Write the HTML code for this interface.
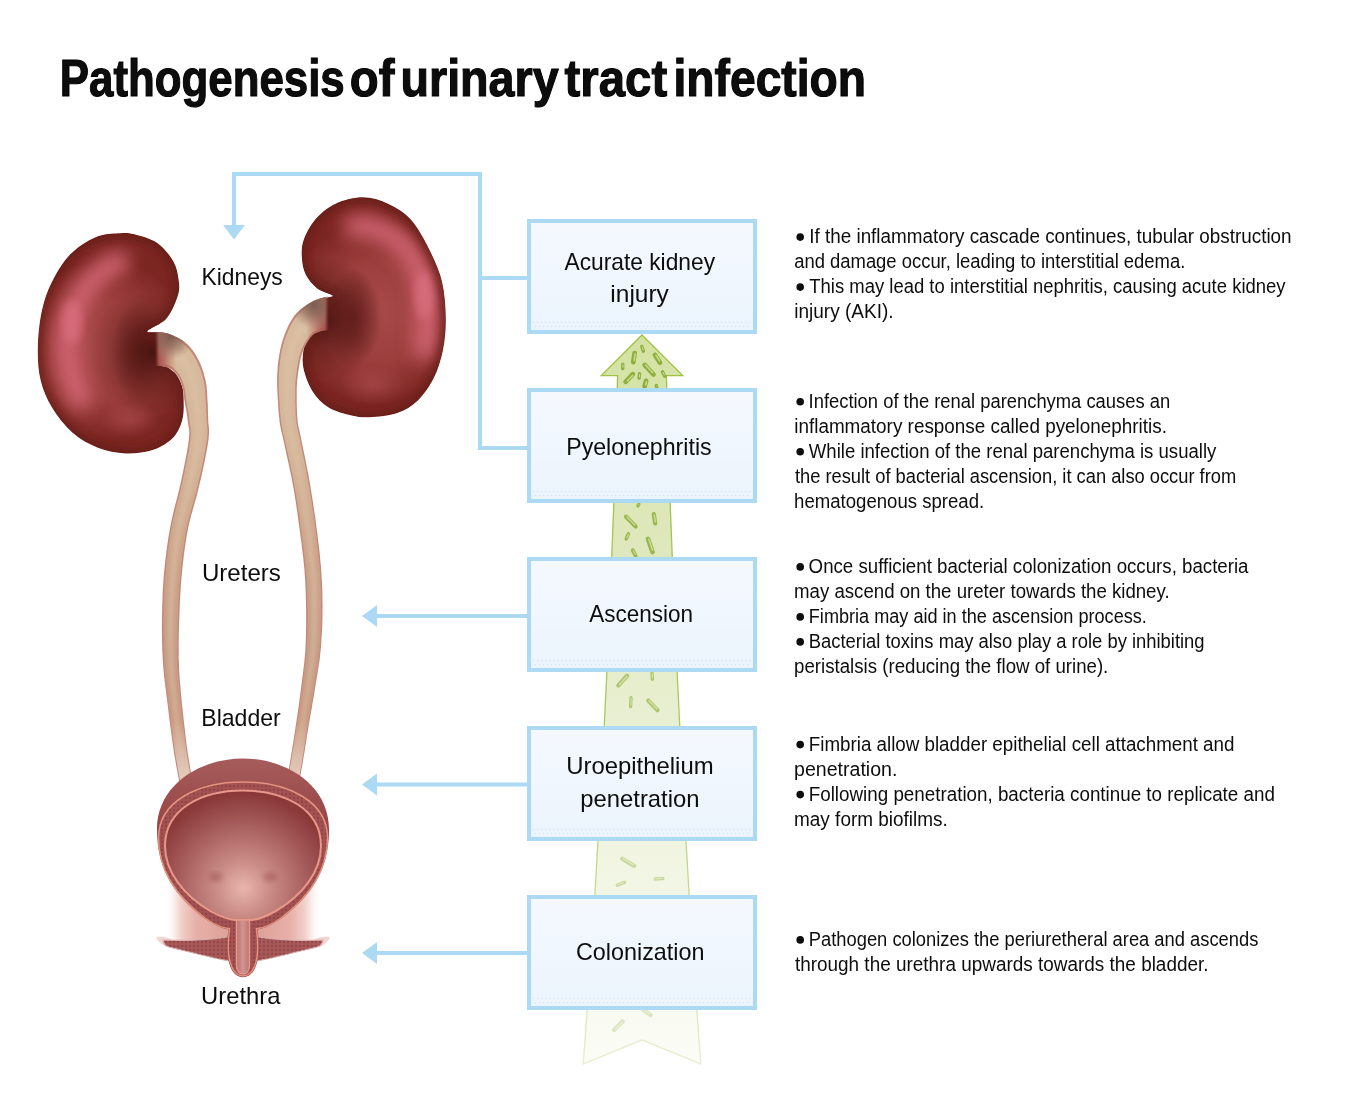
<!DOCTYPE html><html><head><meta charset="utf-8"><title>Pathogenesis of urinary tract infection</title><style>
html,body{margin:0;padding:0;background:#fff;overflow:hidden;}
svg{display:block;font-family:"Liberation Sans",sans-serif;}
</style></head><body>
<svg width="1364" height="1093" viewBox="0 0 1364 1093">
<defs>
<linearGradient id="arrowG" x1="0" y1="335" x2="0" y2="1064" gradientUnits="userSpaceOnUse">
 <stop offset="0" stop-color="#d3e2a2"/><stop offset="0.3" stop-color="#dfe8bd"/><stop offset="0.55" stop-color="#eaf0d4"/><stop offset="0.8" stop-color="#f4f7e8"/><stop offset="1" stop-color="#fbfcf6"/>
</linearGradient>
<linearGradient id="arrowS" x1="0" y1="335" x2="0" y2="1064" gradientUnits="userSpaceOnUse">
 <stop offset="0" stop-color="#9dc13f"/><stop offset="0.5" stop-color="#a9c85a"/><stop offset="0.75" stop-color="#c4d98f"/><stop offset="1" stop-color="#e6eecb"/>
</linearGradient>
<linearGradient id="boxG" x1="0" y1="0" x2="0" y2="1">
 <stop offset="0" stop-color="#f5f9fe"/><stop offset="1" stop-color="#ebf4fd"/>
</linearGradient>
<radialGradient id="lkG" cx="105" cy="350" r="90" gradientUnits="userSpaceOnUse">
 <stop offset="0" stop-color="#a84a4a"/><stop offset="0.55" stop-color="#9c3e3c"/><stop offset="1" stop-color="#7c2622"/>
</radialGradient>
<radialGradient id="rkG" cx="378" cy="312" r="92" gradientUnits="userSpaceOnUse">
 <stop offset="0" stop-color="#a84a4a"/><stop offset="0.55" stop-color="#9c3e3c"/><stop offset="1" stop-color="#7c2622"/>
</radialGradient>
<filter id="blur6" x="-50%" y="-50%" width="200%" height="200%"><feGaussianBlur stdDeviation="9"/></filter>
<radialGradient id="hilL" cx="152" cy="352" r="62" gradientUnits="userSpaceOnUse">
 <stop offset="0" stop-color="#4a1410" stop-opacity="1"/><stop offset="0.45" stop-color="#5a1a16" stop-opacity="0.6"/><stop offset="1" stop-color="#5a1a16" stop-opacity="0"/>
</radialGradient>
<radialGradient id="hilR" cx="322" cy="318" r="62" gradientUnits="userSpaceOnUse">
 <stop offset="0" stop-color="#4a1410" stop-opacity="1"/><stop offset="0.45" stop-color="#5a1a16" stop-opacity="0.6"/><stop offset="1" stop-color="#5a1a16" stop-opacity="0"/>
</radialGradient>
<radialGradient id="pelL" cx="170" cy="336" r="24" gradientUnits="userSpaceOnUse">
 <stop offset="0" stop-color="#7a5a50" stop-opacity="1"/><stop offset="0.5" stop-color="#8e6a5c" stop-opacity="0.7"/><stop offset="1" stop-color="#a07868" stop-opacity="0"/>
</radialGradient>
<radialGradient id="pelR" cx="314" cy="305" r="24" gradientUnits="userSpaceOnUse">
 <stop offset="0" stop-color="#7a5a50" stop-opacity="1"/><stop offset="0.5" stop-color="#8e6a5c" stop-opacity="0.7"/><stop offset="1" stop-color="#a07868" stop-opacity="0"/>
</radialGradient>
<linearGradient id="pel2L" x1="157" y1="0" x2="176" y2="0" gradientUnits="userSpaceOnUse">
 <stop offset="0" stop-color="#a04a48" stop-opacity="1"/><stop offset="0.4" stop-color="#b0605a" stop-opacity="0.8"/><stop offset="1" stop-color="#b87060" stop-opacity="0"/>
</linearGradient>
<linearGradient id="pel2R" x1="327" y1="0" x2="306" y2="0" gradientUnits="userSpaceOnUse">
 <stop offset="0" stop-color="#a04a48" stop-opacity="1"/><stop offset="0.4" stop-color="#b0605a" stop-opacity="0.8"/><stop offset="1" stop-color="#b87060" stop-opacity="0"/>
</linearGradient>
<linearGradient id="uBot" x1="0" y1="720" x2="0" y2="780" gradientUnits="userSpaceOnUse">
 <stop offset="0" stop-color="#fff" stop-opacity="0"/><stop offset="1" stop-color="#fff" stop-opacity="0.55"/>
</linearGradient>
<radialGradient id="cavG" cx="243" cy="888" r="95" gradientUnits="userSpaceOnUse">
 <stop offset="0" stop-color="#e8b6ac"/><stop offset="0.3" stop-color="#c98a84"/><stop offset="0.7" stop-color="#a45a5a"/><stop offset="1" stop-color="#8a3838"/>
</radialGradient>
<linearGradient id="domeG" x1="0" y1="758" x2="0" y2="840" gradientUnits="userSpaceOnUse">
 <stop offset="0" stop-color="#a65c5c"/><stop offset="1" stop-color="#94403f"/>
</linearGradient>
<radialGradient id="shG" cx="0.5" cy="0.5" r="0.5">
 <stop offset="0" stop-color="#eec2ba"/><stop offset="0.6" stop-color="#f6dcd6" stop-opacity="0.7"/><stop offset="1" stop-color="#fff" stop-opacity="0"/>
</radialGradient>
<linearGradient id="shoG" x1="165" y1="0" x2="321" y2="0" gradientUnits="userSpaceOnUse">
 <stop offset="0" stop-color="#fff" stop-opacity="0"/><stop offset="0.1" stop-color="#f2d0ca"/><stop offset="0.2" stop-color="#e6b0a8"/><stop offset="0.5" stop-color="#da9a92"/><stop offset="0.8" stop-color="#e6b0a8"/><stop offset="0.9" stop-color="#f2d0ca"/><stop offset="1" stop-color="#fff" stop-opacity="0"/>
</linearGradient>
<linearGradient id="lumG" x1="235" y1="0" x2="251" y2="0" gradientUnits="userSpaceOnUse">
 <stop offset="0" stop-color="#b66a68"/><stop offset="0.5" stop-color="#d19590"/><stop offset="1" stop-color="#b66a68"/>
</linearGradient>
<pattern id="cells" width="4" height="4" patternUnits="userSpaceOnUse"><circle cx="2" cy="2" r="1.2" fill="#7e3434" opacity="0.45"/></pattern>
<radialGradient id="shadE" cx="0.5" cy="0.5" r="0.5"><stop offset="0" stop-color="#5a1a16" stop-opacity="0.75"/><stop offset="1" stop-color="#5a1a16" stop-opacity="0"/></radialGradient>
<radialGradient id="hiE" cx="0.5" cy="0.5" r="0.5"><stop offset="0" stop-color="#d46a78" stop-opacity="1"/><stop offset="1" stop-color="#d46a78" stop-opacity="0"/></radialGradient>
<pattern id="dots" width="4" height="4" patternUnits="userSpaceOnUse" x="1" y="0"><rect x="0" y="0" width="1.2" height="4" fill="#d8e0ea"/></pattern>
<pattern id="dots2" width="4" height="4" patternUnits="userSpaceOnUse" x="3" y="0"><rect x="0" y="0" width="1.2" height="4" fill="#d8e0ea"/></pattern>
<filter id="blur4" x="-20%" y="-20%" width="140%" height="140%"><feGaussianBlur stdDeviation="4"/></filter>
<filter id="blur2" x="-20%" y="-20%" width="140%" height="140%"><feGaussianBlur stdDeviation="2"/></filter>
<linearGradient id="mLg" x1="155" y1="0" x2="159" y2="0" gradientUnits="userSpaceOnUse"><stop offset="0" stop-color="#fff" stop-opacity="0"/><stop offset="1" stop-color="#fff" stop-opacity="1"/></linearGradient>
<linearGradient id="mRg" x1="329" y1="0" x2="325" y2="0" gradientUnits="userSpaceOnUse"><stop offset="0" stop-color="#fff" stop-opacity="0"/><stop offset="1" stop-color="#fff" stop-opacity="1"/></linearGradient>
<mask id="mL" maskUnits="userSpaceOnUse" x="0" y="0" width="1364" height="1093"><rect x="0" y="0" width="1364" height="1093" fill="url(#mLg)"/></mask>
<mask id="mR" maskUnits="userSpaceOnUse" x="0" y="0" width="1364" height="1093"><rect x="0" y="0" width="1364" height="1093" fill="url(#mRg)"/></mask>
<clipPath id="pcL"><rect x="140" y="320" width="60" height="52"/></clipPath>
<clipPath id="pcR"><rect x="290" y="285" width="50" height="52"/></clipPath>
<linearGradient id="uBody" x1="0" y1="330" x2="0" y2="790" gradientUnits="userSpaceOnUse">
 <stop offset="0" stop-color="#d8bb9e"/><stop offset="0.26" stop-color="#d4b498"/><stop offset="0.5" stop-color="#cba288"/><stop offset="0.7" stop-color="#c69a84"/><stop offset="0.85" stop-color="#c9977f"/><stop offset="0.93" stop-color="#dbbcae"/><stop offset="1" stop-color="#ecd8d0"/>
</linearGradient>
<clipPath id="lkC"><path d="M 147.5 331.0 C 148.9 328.6 161.4 324.3 166.5 318.4 C 171.6 312.5 175.9 302.0 177.9 295.5 C 179.9 289.0 179.4 285.2 178.6 279.5 C 177.8 273.8 176.9 267.3 173.3 261.2 C 169.8 255.1 163.8 247.4 157.3 242.9 C 150.8 238.4 140.9 235.8 134.4 234.2 C 127.9 232.6 124.9 232.8 118.4 233.3 C 111.9 233.8 103.5 233.7 95.5 237.2 C 87.5 240.7 77.5 246.9 70.3 254.3 C 63.0 261.7 56.8 272.3 52.0 281.8 C 47.2 291.3 44.1 300.5 41.7 311.5 C 39.3 322.5 38.0 336.6 37.8 348.0 C 37.6 359.4 38.2 370.3 40.6 380.2 C 43.0 390.1 46.7 398.8 52.0 407.6 C 57.3 416.4 65.0 426.1 72.6 432.8 C 80.2 439.5 89.0 444.3 97.8 447.7 C 106.6 451.1 116.2 453.0 125.3 453.4 C 134.4 453.8 144.7 452.7 152.7 450.0 C 160.7 447.3 168.3 442.6 173.3 437.4 C 178.3 432.2 180.8 425.5 182.5 419.0 C 184.2 412.5 183.7 404.0 183.6 398.5 C 183.5 393.0 183.3 390.1 182.0 386.0 C 180.7 381.9 178.5 377.3 176.0 374.0 C 173.5 370.7 168.2 368.7 167.0 366.0 C 165.8 363.3 168.7 361.5 169.0 358.0 C 169.3 354.5 169.5 348.7 169.0 345.0 C 168.5 341.3 167.8 338.1 166.0 336.0 C 164.2 333.9 161.1 333.3 158.0 332.5 C 154.9 331.7 146.1 333.4 147.5 331.0 Z"/></clipPath>
<clipPath id="rkC"><path d="M 363.0 197.3 C 371.8 197.3 380.0 200.0 388.0 203.7 C 396.0 207.4 404.1 212.1 411.0 219.7 C 417.9 227.3 424.1 239.2 429.3 249.5 C 434.5 259.8 439.2 270.1 442.0 281.5 C 444.8 292.9 445.6 306.6 445.8 318.0 C 446.0 329.4 445.0 340.1 443.0 350.0 C 441.0 359.9 438.2 369.2 434.0 377.6 C 429.8 386.0 424.0 394.6 417.9 400.5 C 411.8 406.4 405.3 410.2 397.3 413.0 C 389.3 415.8 377.4 416.8 369.8 417.2 C 362.2 417.6 358.4 417.0 351.5 415.4 C 344.6 413.8 335.1 411.4 328.6 407.4 C 322.1 403.4 316.8 397.9 312.6 391.4 C 308.4 384.9 305.0 375.4 303.5 368.5 C 302.0 361.6 302.6 355.4 303.5 350.2 C 304.4 344.9 307.1 340.5 309.0 337.0 C 310.9 333.5 314.2 332.5 315.0 329.0 C 315.8 325.5 313.5 320.3 314.0 316.0 C 314.5 311.7 316.0 306.0 318.0 303.0 C 320.0 300.0 323.6 299.2 326.0 298.0 C 328.4 296.8 334.0 297.1 332.5 295.5 C 331.0 293.9 321.6 291.9 317.2 288.4 C 312.8 284.9 308.4 279.7 305.8 274.7 C 303.2 269.7 302.3 264.3 301.9 258.6 C 301.5 252.9 301.3 246.8 303.5 240.3 C 305.7 233.8 309.7 225.8 315.0 219.7 C 320.3 213.6 327.5 207.4 335.5 203.7 C 343.5 200.0 354.2 197.3 363.0 197.3 Z"/></clipPath>
</defs>
<rect width="1364" height="1093" fill="#fff"/>

<path d="M 642 335 L 682.7 375.6 L 666.4 375.6 Q 675.005 719.8 700.8 1064 L 642 1040 L 583.2 1064 Q 608.995 719.8 617.6 375.6 L 601.3 375.6 Z" fill="url(#arrowG)" stroke="url(#arrowS)" stroke-width="1.3"/>
<g transform="translate(642.6 348.8) rotate(71.6)" opacity="1.0"><rect x="-4.2" y="-1.7" width="8.4" height="3.4" rx="1.7" fill="#8fae3c"/><rect x="-2.5" y="-0.8" width="4.3" height="1.2" rx="0.6" fill="#c4da88"/></g>
<g transform="translate(634.0 357.6) rotate(98.4)" opacity="1.0"><rect x="-6.9" y="-2.3" width="13.8" height="4.7" rx="2.3" fill="#8fae3c"/><rect x="-4.6" y="-1.4" width="8.2" height="1.6" rx="0.8" fill="#c4da88"/></g>
<g transform="translate(657.5 358.8) rotate(56.9)" opacity="1.0"><rect x="-6.9" y="-2.3" width="13.9" height="4.7" rx="2.3" fill="#8fae3c"/><rect x="-4.6" y="-1.4" width="8.3" height="1.6" rx="0.8" fill="#c4da88"/></g>
<g transform="translate(622.7 366.3) rotate(90.0)" opacity="1.0"><rect x="-3.8" y="-1.7" width="7.7" height="3.4" rx="1.7" fill="#8fae3c"/><rect x="-2.1" y="-0.8" width="3.6" height="1.2" rx="0.6" fill="#c4da88"/></g>
<g transform="translate(649.1 369.7) rotate(47.2)" opacity="1.0"><rect x="-8.8" y="-2.3" width="17.6" height="4.7" rx="2.3" fill="#8fae3c"/><rect x="-6.5" y="-1.4" width="12.0" height="1.6" rx="0.8" fill="#c4da88"/></g>
<g transform="translate(629.3 378.0) rotate(133.7)" opacity="1.0"><rect x="-7.5" y="-2.3" width="15.1" height="4.7" rx="2.3" fill="#8fae3c"/><rect x="-5.2" y="-1.4" width="9.5" height="1.6" rx="0.8" fill="#c4da88"/></g>
<g transform="translate(639.3 376.0) rotate(95.7)" opacity="1.0"><rect x="-3.9" y="-1.7" width="7.7" height="3.4" rx="1.7" fill="#8fae3c"/><rect x="-2.2" y="-0.8" width="3.6" height="1.2" rx="0.6" fill="#c4da88"/></g>
<g transform="translate(663.6 374.0) rotate(63.4)" opacity="1.0"><rect x="-4.2" y="-1.7" width="8.4" height="3.4" rx="1.7" fill="#8fae3c"/><rect x="-2.5" y="-0.8" width="4.3" height="1.2" rx="0.6" fill="#c4da88"/></g>
<g transform="translate(645.4 383.6) rotate(105.5)" opacity="1.0"><rect x="-5.2" y="-2.3" width="10.3" height="4.7" rx="2.3" fill="#8fae3c"/><rect x="-2.8" y="-1.4" width="4.7" height="1.6" rx="0.8" fill="#c4da88"/></g>
<g transform="translate(656.5 386.5) rotate(76.0)" opacity="1.0"><rect x="-2.7" y="-1.7" width="5.4" height="3.4" rx="1.7" fill="#8fae3c"/><rect x="-1.0" y="-0.8" width="1.3" height="1.2" rx="0.6" fill="#c4da88"/></g>
<g transform="translate(638.4 505.0) rotate(119.7)" opacity="0.85"><rect x="-2.6" y="-1.7" width="5.3" height="3.4" rx="1.7" fill="#8fae3c"/><rect x="-0.9" y="-0.8" width="1.2" height="1.2" rx="0.6" fill="#c4da88"/></g>
<g transform="translate(630.9 521.6) rotate(45.0)" opacity="0.85"><rect x="-9.0" y="-2.1" width="17.9" height="4.2" rx="2.1" fill="#8fae3c"/><rect x="-6.8" y="-1.2" width="12.8" height="1.5" rx="0.7" fill="#c4da88"/></g>
<g transform="translate(654.5 518.8) rotate(81.6)" opacity="0.85"><rect x="-6.8" y="-2.1" width="13.6" height="4.2" rx="2.1" fill="#8fae3c"/><rect x="-4.7" y="-1.2" width="8.5" height="1.5" rx="0.7" fill="#c4da88"/></g>
<g transform="translate(627.3 536.3) rotate(113.6)" opacity="0.85"><rect x="-4.5" y="-1.7" width="9.1" height="3.4" rx="1.7" fill="#8fae3c"/><rect x="-2.8" y="-0.8" width="5.0" height="1.2" rx="0.6" fill="#c4da88"/></g>
<g transform="translate(650.3 545.4) rotate(70.6)" opacity="0.85"><rect x="-9.3" y="-2.3" width="18.6" height="4.7" rx="2.3" fill="#8fae3c"/><rect x="-7.0" y="-1.4" width="13.0" height="1.6" rx="0.8" fill="#c4da88"/></g>
<g transform="translate(634.2 553.0) rotate(62.1)" opacity="0.85"><rect x="-5.0" y="-1.9" width="10.1" height="3.8" rx="1.9" fill="#8fae3c"/><rect x="-3.1" y="-1.0" width="5.5" height="1.3" rx="0.7" fill="#c4da88"/></g>
<g transform="translate(622.7 680.6) rotate(132.4)" opacity="0.62"><rect x="-8.7" y="-2.1" width="17.4" height="4.2" rx="2.1" fill="#8fae3c"/><rect x="-6.6" y="-1.2" width="12.3" height="1.5" rx="0.7" fill="#c4da88"/></g>
<g transform="translate(652.2 676.1) rotate(86.4)" opacity="0.62"><rect x="-4.8" y="-1.7" width="9.7" height="3.4" rx="1.7" fill="#8fae3c"/><rect x="-3.1" y="-0.8" width="5.6" height="1.2" rx="0.6" fill="#c4da88"/></g>
<g transform="translate(630.8 702.1) rotate(92.7)" opacity="0.62"><rect x="-6.0" y="-1.7" width="12.1" height="3.4" rx="1.7" fill="#8fae3c"/><rect x="-4.3" y="-0.8" width="8.0" height="1.2" rx="0.6" fill="#c4da88"/></g>
<g transform="translate(652.9 705.4) rotate(46.3)" opacity="0.62"><rect x="-8.9" y="-2.1" width="17.7" height="4.2" rx="2.1" fill="#8fae3c"/><rect x="-6.7" y="-1.2" width="12.6" height="1.5" rx="0.7" fill="#c4da88"/></g>
<g transform="translate(628.2 862.3) rotate(31.0)" opacity="0.4"><rect x="-9.0" y="-2.1" width="18.0" height="4.2" rx="2.1" fill="#8fae3c"/><rect x="-6.9" y="-1.2" width="12.9" height="1.5" rx="0.7" fill="#c4da88"/></g>
<g transform="translate(621.0 883.8) rotate(-20.6)" opacity="0.4"><rect x="-5.6" y="-1.7" width="11.1" height="3.4" rx="1.7" fill="#8fae3c"/><rect x="-3.9" y="-0.8" width="7.0" height="1.2" rx="0.6" fill="#c4da88"/></g>
<g transform="translate(659.0 878.8) rotate(-3.4)" opacity="0.4"><rect x="-5.5" y="-1.7" width="11.1" height="3.4" rx="1.7" fill="#8fae3c"/><rect x="-3.8" y="-0.8" width="7.0" height="1.2" rx="0.6" fill="#c4da88"/></g>
<g transform="translate(618.4 1025.7) rotate(135.0)" opacity="0.28"><rect x="-8.0" y="-2.1" width="16.1" height="4.2" rx="2.1" fill="#8fae3c"/><rect x="-5.9" y="-1.2" width="11.0" height="1.5" rx="0.7" fill="#c4da88"/></g>
<g transform="translate(647.3 1012.7) rotate(36.3)" opacity="0.28"><rect x="-6.2" y="-2.1" width="12.4" height="4.2" rx="2.1" fill="#8fae3c"/><rect x="-4.1" y="-1.2" width="7.3" height="1.5" rx="0.7" fill="#c4da88"/></g>
<path d="M 529 448 L 480 448 L 480 174 L 234 174 L 234 226 M 480 278 L 529 278" fill="none" stroke="#acd9f3" stroke-width="4" stroke-linejoin="miter"/>
<path d="M 223 225 L 245 225 L 234 239.5 Z" fill="#acd9f3"/>
<path d="M 376 616 L 529 616" stroke="#acd9f3" stroke-width="4"/>
<path d="M 362 616 L 377 605 L 377 627 Z" fill="#acd9f3"/>
<path d="M 376 784.5 L 529 784.5" stroke="#acd9f3" stroke-width="4"/>
<path d="M 362 784.5 L 377 773.5 L 377 795.5 Z" fill="#acd9f3"/>
<path d="M 376 953 L 529 953" stroke="#acd9f3" stroke-width="4"/>
<path d="M 362 953 L 377 942 L 377 964 Z" fill="#acd9f3"/>
<rect x="529" y="221" width="226" height="111" fill="url(#boxG)" stroke="#acd9f3" stroke-width="4"/>
<rect x="533" y="322" width="218" height="1" fill="url(#dots)"/>
<rect x="533" y="326" width="218" height="1" fill="url(#dots2)"/>
<rect x="529" y="390" width="226" height="111" fill="url(#boxG)" stroke="#acd9f3" stroke-width="4"/>
<rect x="533" y="491" width="218" height="1" fill="url(#dots)"/>
<rect x="533" y="495" width="218" height="1" fill="url(#dots2)"/>
<rect x="529" y="559" width="226" height="111" fill="url(#boxG)" stroke="#acd9f3" stroke-width="4"/>
<rect x="533" y="660" width="218" height="1" fill="url(#dots)"/>
<rect x="533" y="664" width="218" height="1" fill="url(#dots2)"/>
<rect x="529" y="728" width="226" height="111" fill="url(#boxG)" stroke="#acd9f3" stroke-width="4"/>
<rect x="533" y="829" width="218" height="1" fill="url(#dots)"/>
<rect x="533" y="833" width="218" height="1" fill="url(#dots2)"/>
<rect x="529" y="897" width="226" height="111" fill="url(#boxG)" stroke="#acd9f3" stroke-width="4"/>
<rect x="533" y="998" width="218" height="1" fill="url(#dots)"/>
<rect x="533" y="1002" width="218" height="1" fill="url(#dots2)"/>
<g clip-path="url(#lkC)"><path d="M 147.5 331.0 C 148.9 328.6 161.4 324.3 166.5 318.4 C 171.6 312.5 175.9 302.0 177.9 295.5 C 179.9 289.0 179.4 285.2 178.6 279.5 C 177.8 273.8 176.9 267.3 173.3 261.2 C 169.8 255.1 163.8 247.4 157.3 242.9 C 150.8 238.4 140.9 235.8 134.4 234.2 C 127.9 232.6 124.9 232.8 118.4 233.3 C 111.9 233.8 103.5 233.7 95.5 237.2 C 87.5 240.7 77.5 246.9 70.3 254.3 C 63.0 261.7 56.8 272.3 52.0 281.8 C 47.2 291.3 44.1 300.5 41.7 311.5 C 39.3 322.5 38.0 336.6 37.8 348.0 C 37.6 359.4 38.2 370.3 40.6 380.2 C 43.0 390.1 46.7 398.8 52.0 407.6 C 57.3 416.4 65.0 426.1 72.6 432.8 C 80.2 439.5 89.0 444.3 97.8 447.7 C 106.6 451.1 116.2 453.0 125.3 453.4 C 134.4 453.8 144.7 452.7 152.7 450.0 C 160.7 447.3 168.3 442.6 173.3 437.4 C 178.3 432.2 180.8 425.5 182.5 419.0 C 184.2 412.5 183.7 404.0 183.6 398.5 C 183.5 393.0 183.3 390.1 182.0 386.0 C 180.7 381.9 178.5 377.3 176.0 374.0 C 173.5 370.7 168.2 368.7 167.0 366.0 C 165.8 363.3 168.7 361.5 169.0 358.0 C 169.3 354.5 169.5 348.7 169.0 345.0 C 168.5 341.3 167.8 338.1 166.0 336.0 C 164.2 333.9 161.1 333.3 158.0 332.5 C 154.9 331.7 146.1 333.4 147.5 331.0 Z" fill="url(#lkG)"/><path d="M 118 262 C 98 270, 80 290, 71 318 C 65 340, 66 370, 80 398" fill="none" stroke="#d86a7a" stroke-width="24" stroke-linecap="round" filter="url(#blur6)" opacity="0.85"/><ellipse cx="72" cy="322" rx="10" ry="22" fill="#e07484" opacity="0.6" filter="url(#blur4)"/><ellipse cx="138" cy="352" rx="26" ry="52" fill="url(#shadE)"/><ellipse cx="130" cy="420" rx="30" ry="18" fill="url(#hiE)" opacity="0.3"/><path d="M 147.5 331.0 C 148.9 328.6 161.4 324.3 166.5 318.4 C 171.6 312.5 175.9 302.0 177.9 295.5 C 179.9 289.0 179.4 285.2 178.6 279.5 C 177.8 273.8 176.9 267.3 173.3 261.2 C 169.8 255.1 163.8 247.4 157.3 242.9 C 150.8 238.4 140.9 235.8 134.4 234.2 C 127.9 232.6 124.9 232.8 118.4 233.3 C 111.9 233.8 103.5 233.7 95.5 237.2 C 87.5 240.7 77.5 246.9 70.3 254.3 C 63.0 261.7 56.8 272.3 52.0 281.8 C 47.2 291.3 44.1 300.5 41.7 311.5 C 39.3 322.5 38.0 336.6 37.8 348.0 C 37.6 359.4 38.2 370.3 40.6 380.2 C 43.0 390.1 46.7 398.8 52.0 407.6 C 57.3 416.4 65.0 426.1 72.6 432.8 C 80.2 439.5 89.0 444.3 97.8 447.7 C 106.6 451.1 116.2 453.0 125.3 453.4 C 134.4 453.8 144.7 452.7 152.7 450.0 C 160.7 447.3 168.3 442.6 173.3 437.4 C 178.3 432.2 180.8 425.5 182.5 419.0 C 184.2 412.5 183.7 404.0 183.6 398.5 C 183.5 393.0 183.3 390.1 182.0 386.0 C 180.7 381.9 178.5 377.3 176.0 374.0 C 173.5 370.7 168.2 368.7 167.0 366.0 C 165.8 363.3 168.7 361.5 169.0 358.0 C 169.3 354.5 169.5 348.7 169.0 345.0 C 168.5 341.3 167.8 338.1 166.0 336.0 C 164.2 333.9 161.1 333.3 158.0 332.5 C 154.9 331.7 146.1 333.4 147.5 331.0 Z" fill="url(#hilL)"/><path d="M 147.5 331.0 C 148.9 328.6 161.4 324.3 166.5 318.4 C 171.6 312.5 175.9 302.0 177.9 295.5 C 179.9 289.0 179.4 285.2 178.6 279.5 C 177.8 273.8 176.9 267.3 173.3 261.2 C 169.8 255.1 163.8 247.4 157.3 242.9 C 150.8 238.4 140.9 235.8 134.4 234.2 C 127.9 232.6 124.9 232.8 118.4 233.3 C 111.9 233.8 103.5 233.7 95.5 237.2 C 87.5 240.7 77.5 246.9 70.3 254.3 C 63.0 261.7 56.8 272.3 52.0 281.8 C 47.2 291.3 44.1 300.5 41.7 311.5 C 39.3 322.5 38.0 336.6 37.8 348.0 C 37.6 359.4 38.2 370.3 40.6 380.2 C 43.0 390.1 46.7 398.8 52.0 407.6 C 57.3 416.4 65.0 426.1 72.6 432.8 C 80.2 439.5 89.0 444.3 97.8 447.7 C 106.6 451.1 116.2 453.0 125.3 453.4 C 134.4 453.8 144.7 452.7 152.7 450.0 C 160.7 447.3 168.3 442.6 173.3 437.4 C 178.3 432.2 180.8 425.5 182.5 419.0 C 184.2 412.5 183.7 404.0 183.6 398.5 C 183.5 393.0 183.3 390.1 182.0 386.0 C 180.7 381.9 178.5 377.3 176.0 374.0 C 173.5 370.7 168.2 368.7 167.0 366.0 C 165.8 363.3 168.7 361.5 169.0 358.0 C 169.3 354.5 169.5 348.7 169.0 345.0 C 168.5 341.3 167.8 338.1 166.0 336.0 C 164.2 333.9 161.1 333.3 158.0 332.5 C 154.9 331.7 146.1 333.4 147.5 331.0 Z" fill="none" stroke="#5e1c18" stroke-width="9" opacity="0.75" filter="url(#blur4)"/></g>
<g clip-path="url(#rkC)"><path d="M 363.0 197.3 C 371.8 197.3 380.0 200.0 388.0 203.7 C 396.0 207.4 404.1 212.1 411.0 219.7 C 417.9 227.3 424.1 239.2 429.3 249.5 C 434.5 259.8 439.2 270.1 442.0 281.5 C 444.8 292.9 445.6 306.6 445.8 318.0 C 446.0 329.4 445.0 340.1 443.0 350.0 C 441.0 359.9 438.2 369.2 434.0 377.6 C 429.8 386.0 424.0 394.6 417.9 400.5 C 411.8 406.4 405.3 410.2 397.3 413.0 C 389.3 415.8 377.4 416.8 369.8 417.2 C 362.2 417.6 358.4 417.0 351.5 415.4 C 344.6 413.8 335.1 411.4 328.6 407.4 C 322.1 403.4 316.8 397.9 312.6 391.4 C 308.4 384.9 305.0 375.4 303.5 368.5 C 302.0 361.6 302.6 355.4 303.5 350.2 C 304.4 344.9 307.1 340.5 309.0 337.0 C 310.9 333.5 314.2 332.5 315.0 329.0 C 315.8 325.5 313.5 320.3 314.0 316.0 C 314.5 311.7 316.0 306.0 318.0 303.0 C 320.0 300.0 323.6 299.2 326.0 298.0 C 328.4 296.8 334.0 297.1 332.5 295.5 C 331.0 293.9 321.6 291.9 317.2 288.4 C 312.8 284.9 308.4 279.7 305.8 274.7 C 303.2 269.7 302.3 264.3 301.9 258.6 C 301.5 252.9 301.3 246.8 303.5 240.3 C 305.7 233.8 309.7 225.8 315.0 219.7 C 320.3 213.6 327.5 207.4 335.5 203.7 C 343.5 200.0 354.2 197.3 363.0 197.3 Z" fill="url(#rkG)"/><path d="M 355 226 C 378 224, 402 238, 416 262 C 428 284, 430 318, 425 348" fill="none" stroke="#d86a7a" stroke-width="24" stroke-linecap="round" filter="url(#blur6)" opacity="0.85"/><ellipse cx="424" cy="295" rx="10" ry="24" fill="#e07484" opacity="0.6" filter="url(#blur4)"/><ellipse cx="352" cy="318" rx="28" ry="50" fill="url(#shadE)"/><ellipse cx="372" cy="385" rx="34" ry="20" fill="url(#hiE)" opacity="0.3"/><path d="M 363.0 197.3 C 371.8 197.3 380.0 200.0 388.0 203.7 C 396.0 207.4 404.1 212.1 411.0 219.7 C 417.9 227.3 424.1 239.2 429.3 249.5 C 434.5 259.8 439.2 270.1 442.0 281.5 C 444.8 292.9 445.6 306.6 445.8 318.0 C 446.0 329.4 445.0 340.1 443.0 350.0 C 441.0 359.9 438.2 369.2 434.0 377.6 C 429.8 386.0 424.0 394.6 417.9 400.5 C 411.8 406.4 405.3 410.2 397.3 413.0 C 389.3 415.8 377.4 416.8 369.8 417.2 C 362.2 417.6 358.4 417.0 351.5 415.4 C 344.6 413.8 335.1 411.4 328.6 407.4 C 322.1 403.4 316.8 397.9 312.6 391.4 C 308.4 384.9 305.0 375.4 303.5 368.5 C 302.0 361.6 302.6 355.4 303.5 350.2 C 304.4 344.9 307.1 340.5 309.0 337.0 C 310.9 333.5 314.2 332.5 315.0 329.0 C 315.8 325.5 313.5 320.3 314.0 316.0 C 314.5 311.7 316.0 306.0 318.0 303.0 C 320.0 300.0 323.6 299.2 326.0 298.0 C 328.4 296.8 334.0 297.1 332.5 295.5 C 331.0 293.9 321.6 291.9 317.2 288.4 C 312.8 284.9 308.4 279.7 305.8 274.7 C 303.2 269.7 302.3 264.3 301.9 258.6 C 301.5 252.9 301.3 246.8 303.5 240.3 C 305.7 233.8 309.7 225.8 315.0 219.7 C 320.3 213.6 327.5 207.4 335.5 203.7 C 343.5 200.0 354.2 197.3 363.0 197.3 Z" fill="url(#hilR)"/><path d="M 363.0 197.3 C 371.8 197.3 380.0 200.0 388.0 203.7 C 396.0 207.4 404.1 212.1 411.0 219.7 C 417.9 227.3 424.1 239.2 429.3 249.5 C 434.5 259.8 439.2 270.1 442.0 281.5 C 444.8 292.9 445.6 306.6 445.8 318.0 C 446.0 329.4 445.0 340.1 443.0 350.0 C 441.0 359.9 438.2 369.2 434.0 377.6 C 429.8 386.0 424.0 394.6 417.9 400.5 C 411.8 406.4 405.3 410.2 397.3 413.0 C 389.3 415.8 377.4 416.8 369.8 417.2 C 362.2 417.6 358.4 417.0 351.5 415.4 C 344.6 413.8 335.1 411.4 328.6 407.4 C 322.1 403.4 316.8 397.9 312.6 391.4 C 308.4 384.9 305.0 375.4 303.5 368.5 C 302.0 361.6 302.6 355.4 303.5 350.2 C 304.4 344.9 307.1 340.5 309.0 337.0 C 310.9 333.5 314.2 332.5 315.0 329.0 C 315.8 325.5 313.5 320.3 314.0 316.0 C 314.5 311.7 316.0 306.0 318.0 303.0 C 320.0 300.0 323.6 299.2 326.0 298.0 C 328.4 296.8 334.0 297.1 332.5 295.5 C 331.0 293.9 321.6 291.9 317.2 288.4 C 312.8 284.9 308.4 279.7 305.8 274.7 C 303.2 269.7 302.3 264.3 301.9 258.6 C 301.5 252.9 301.3 246.8 303.5 240.3 C 305.7 233.8 309.7 225.8 315.0 219.7 C 320.3 213.6 327.5 207.4 335.5 203.7 C 343.5 200.0 354.2 197.3 363.0 197.3 Z" fill="none" stroke="#5e1c18" stroke-width="9" opacity="0.75" filter="url(#blur4)"/></g>
<g mask="url(#mL)"><path d="M 149.8 364.4 L 150.6 364.5 L 151.7 364.6 L 152.7 364.7 L 153.7 364.8 L 154.7 365.0 L 155.7 365.1 L 156.7 365.2 L 157.6 365.4 L 158.5 365.5 L 159.2 365.6 L 159.8 365.7 L 160.3 365.8 L 161.1 366.0 L 162.1 366.2 L 163.0 366.4 L 163.8 366.6 L 164.6 366.8 L 165.4 367.0 L 166.1 367.1 L 166.8 367.3 L 167.4 367.4 L 167.9 367.6 L 168.3 367.7 L 168.8 367.8 L 169.3 368.1 L 169.9 368.4 L 170.6 368.8 L 171.3 369.2 L 172.0 369.7 L 172.7 370.3 L 173.4 370.9 L 174.1 371.5 L 174.8 372.2 L 175.5 372.9 L 176.1 373.7 L 176.7 374.4 L 177.2 375.2 L 177.8 376.0 L 178.3 376.9 L 178.8 377.9 L 179.3 378.9 L 179.8 380.0 L 180.3 381.1 L 180.8 382.3 L 181.2 383.4 L 181.6 384.6 L 182.0 385.8 L 182.3 386.9 L 182.6 387.8 L 182.9 388.8 L 183.1 389.7 L 183.2 390.7 L 183.4 391.8 L 183.5 392.9 L 183.7 394.1 L 183.8 395.4 L 184.0 396.7 L 184.1 398.1 L 184.3 399.7 L 184.6 401.2 L 184.8 402.8 L 185.1 404.4 L 185.4 406.0 L 185.7 407.6 L 186.0 409.2 L 186.3 410.9 L 186.6 412.6 L 186.8 414.2 L 187.1 415.9 L 187.4 417.5 L 187.6 419.1 L 187.8 420.8 L 188.0 422.5 L 188.2 424.2 L 188.5 425.7 L 188.7 427.1 L 188.9 428.3 L 189.1 429.4 L 189.2 430.5 L 189.3 431.7 L 189.3 433.1 L 189.2 434.7 L 189.1 436.6 L 188.9 438.8 L 188.6 441.4 L 188.2 444.4 L 187.7 447.6 L 187.1 451.1 L 186.4 454.8 L 185.7 458.6 L 184.9 462.5 L 184.1 466.5 L 183.3 470.5 L 182.5 474.4 L 181.7 478.2 L 180.9 481.9 L 180.1 485.5 L 179.3 489.0 L 178.4 492.6 L 177.5 496.2 L 176.6 499.8 L 175.6 503.4 L 174.7 507.1 L 173.7 510.9 L 172.8 514.7 L 172.0 518.5 L 171.1 522.4 L 170.4 526.3 L 169.7 530.3 L 169.0 534.2 L 168.3 538.2 L 167.7 542.2 L 167.1 546.2 L 166.6 550.3 L 166.1 554.3 L 165.6 558.3 L 165.1 562.3 L 164.7 566.3 L 164.3 570.3 L 163.9 574.2 L 163.6 578.1 L 163.3 582.0 L 163.1 585.9 L 162.8 589.8 L 162.6 593.7 L 162.5 597.6 L 162.4 601.4 L 162.2 605.1 L 162.1 608.9 L 162.1 612.6 L 162.0 616.2 L 162.0 619.8 L 161.9 623.4 L 161.9 626.9 L 161.9 630.4 L 161.9 633.8 L 162.0 637.3 L 162.0 640.7 L 162.1 644.0 L 162.2 647.3 L 162.3 650.6 L 162.5 653.9 L 162.6 657.1 L 162.8 660.3 L 163.0 663.4 L 163.2 666.4 L 163.5 669.3 L 163.7 672.0 L 164.0 674.8 L 164.3 677.5 L 164.6 680.3 L 165.0 683.1 L 165.3 686.0 L 165.7 689.1 L 166.1 692.3 L 166.5 695.8 L 167.0 699.5 L 167.5 703.6 L 168.0 707.8 L 168.6 712.3 L 169.1 716.8 L 169.7 721.4 L 170.3 726.0 L 170.9 730.5 L 171.5 734.9 L 172.1 739.2 L 172.6 743.2 L 173.2 746.9 L 173.7 750.5 L 174.2 754.0 L 174.8 757.3 L 175.4 760.6 L 175.9 763.7 L 176.4 766.7 L 177.0 769.6 L 177.5 772.3 L 177.9 774.8 L 178.4 777.1 L 178.7 779.2 L 179.1 781.1 L 179.4 782.8 L 179.7 784.3 L 179.9 785.6 L 180.1 786.7 L 180.3 787.6 L 180.5 788.4 L 180.6 789.1 L 180.8 789.6 L 180.9 790.1 L 181.0 790.5 L 181.0 790.9 L 181.1 791.2 L 193.9 788.8 L 193.8 788.3 L 193.7 787.9 L 193.6 787.4 L 193.5 787.0 L 193.4 786.4 L 193.3 785.8 L 193.2 785.1 L 193.0 784.3 L 192.8 783.2 L 192.6 782.0 L 192.4 780.6 L 192.1 778.9 L 191.8 776.9 L 191.4 774.7 L 191.0 772.4 L 190.5 769.9 L 190.1 767.2 L 189.6 764.4 L 189.1 761.5 L 188.6 758.4 L 188.1 755.2 L 187.6 751.9 L 187.1 748.5 L 186.6 745.1 L 186.2 741.4 L 185.7 737.4 L 185.2 733.2 L 184.7 728.8 L 184.2 724.3 L 183.7 719.7 L 183.2 715.2 L 182.7 710.6 L 182.2 706.2 L 181.8 702.0 L 181.4 698.0 L 181.1 694.2 L 180.7 690.8 L 180.5 687.5 L 180.2 684.5 L 179.9 681.6 L 179.7 678.8 L 179.5 676.1 L 179.4 673.5 L 179.2 670.9 L 179.1 668.2 L 179.0 665.5 L 178.9 662.6 L 178.8 659.7 L 178.7 656.6 L 178.7 653.5 L 178.7 650.3 L 178.7 647.1 L 178.7 643.9 L 178.7 640.6 L 178.8 637.3 L 178.8 633.9 L 178.9 630.6 L 179.0 627.1 L 179.1 623.7 L 179.2 620.2 L 179.4 616.6 L 179.5 613.1 L 179.6 609.4 L 179.8 605.7 L 179.9 602.0 L 180.1 598.3 L 180.3 594.6 L 180.5 590.8 L 180.8 587.1 L 181.0 583.3 L 181.3 579.6 L 181.7 575.8 L 182.0 572.0 L 182.4 568.2 L 182.8 564.3 L 183.3 560.4 L 183.7 556.5 L 184.2 552.6 L 184.7 548.7 L 185.3 544.8 L 185.9 541.0 L 186.5 537.1 L 187.1 533.4 L 187.8 529.7 L 188.6 526.1 L 189.4 522.5 L 190.3 518.9 L 191.2 515.3 L 192.2 511.8 L 193.2 508.2 L 194.2 504.6 L 195.2 500.9 L 196.3 497.3 L 197.3 493.6 L 198.2 489.8 L 199.1 486.1 L 200.0 482.3 L 200.9 478.4 L 201.8 474.4 L 202.7 470.4 L 203.5 466.4 L 204.4 462.4 L 205.2 458.5 L 205.9 454.7 L 206.6 451.0 L 207.3 447.5 L 207.8 444.2 L 208.3 441.2 L 208.6 438.4 L 208.8 435.9 L 209.0 433.5 L 209.0 431.4 L 209.0 429.4 L 208.9 427.6 L 208.7 426.0 L 208.6 424.5 L 208.4 423.1 L 208.3 421.9 L 208.3 420.6 L 208.2 419.2 L 208.2 417.6 L 208.1 415.8 L 208.1 414.0 L 208.0 412.2 L 208.0 410.4 L 207.9 408.6 L 207.8 406.9 L 207.8 405.1 L 207.7 403.5 L 207.6 401.8 L 207.5 400.2 L 207.4 398.8 L 207.4 397.4 L 207.3 396.1 L 207.2 394.7 L 207.1 393.4 L 207.1 392.0 L 207.0 390.6 L 206.8 389.2 L 206.7 387.6 L 206.5 386.1 L 206.3 384.5 L 206.0 382.8 L 205.7 381.1 L 205.3 379.6 L 204.9 378.0 L 204.5 376.4 L 204.1 374.8 L 203.7 373.1 L 203.2 371.5 L 202.6 369.9 L 202.0 368.2 L 201.4 366.5 L 200.8 364.9 L 200.1 363.2 L 199.3 361.6 L 198.5 360.0 L 197.7 358.5 L 196.9 357.0 L 196.1 355.4 L 195.2 354.0 L 194.2 352.5 L 193.2 351.0 L 192.1 349.6 L 191.0 348.2 L 189.8 346.8 L 188.6 345.5 L 187.2 344.2 L 185.7 342.9 L 184.1 341.6 L 182.6 340.5 L 181.0 339.5 L 179.5 338.6 L 178.0 337.8 L 176.5 337.0 L 175.1 336.4 L 173.7 335.7 L 172.3 335.2 L 171.1 334.7 L 169.7 334.2 L 167.9 333.6 L 166.1 333.2 L 164.4 332.8 L 162.7 332.5 L 161.2 332.3 L 159.7 332.2 L 158.3 332.0 L 157.1 331.9 L 156.0 331.8 L 155.2 331.7 L 154.6 331.7 L 154.2 331.6 Z" fill="#c3897a"/><path d="M 150.2 361.7 L 151.0 361.8 L 151.9 362.0 L 152.9 362.1 L 153.9 362.2 L 155.0 362.3 L 156.0 362.5 L 157.1 362.6 L 158.1 362.8 L 159.0 362.9 L 159.8 363.0 L 160.5 363.2 L 161.1 363.3 L 161.9 363.5 L 162.9 363.7 L 163.8 364.0 L 164.7 364.2 L 165.6 364.4 L 166.4 364.6 L 167.2 364.8 L 167.9 365.1 L 168.6 365.3 L 169.2 365.5 L 169.7 365.7 L 170.3 365.9 L 170.9 366.3 L 171.5 366.7 L 172.2 367.1 L 172.9 367.7 L 173.7 368.2 L 174.4 368.9 L 175.1 369.5 L 175.8 370.2 L 176.5 371.0 L 177.2 371.8 L 177.9 372.6 L 178.5 373.4 L 179.1 374.2 L 179.6 375.1 L 180.2 376.1 L 180.7 377.1 L 181.2 378.2 L 181.7 379.3 L 182.2 380.5 L 182.6 381.7 L 183.1 382.9 L 183.5 384.1 L 183.9 385.3 L 184.2 386.4 L 184.5 387.4 L 184.7 388.4 L 184.9 389.4 L 185.1 390.5 L 185.3 391.6 L 185.4 392.7 L 185.5 393.9 L 185.7 395.2 L 185.8 396.5 L 186.0 398.0 L 186.2 399.5 L 186.4 401.0 L 186.6 402.6 L 186.9 404.2 L 187.2 405.8 L 187.4 407.4 L 187.7 409.1 L 188.0 410.7 L 188.3 412.4 L 188.5 414.0 L 188.8 415.7 L 189.0 417.3 L 189.2 419.0 L 189.4 420.6 L 189.6 422.4 L 189.8 424.1 L 190.1 425.5 L 190.3 426.9 L 190.5 428.1 L 190.6 429.3 L 190.8 430.4 L 190.8 431.7 L 190.9 433.1 L 190.8 434.8 L 190.7 436.7 L 190.5 439.0 L 190.1 441.6 L 189.7 444.6 L 189.2 447.9 L 188.6 451.4 L 187.9 455.1 L 187.2 458.9 L 186.4 462.8 L 185.6 466.8 L 184.8 470.8 L 183.9 474.7 L 183.1 478.6 L 182.3 482.3 L 181.5 485.8 L 180.7 489.4 L 179.8 493.0 L 178.9 496.6 L 178.0 500.2 L 177.0 503.8 L 176.1 507.5 L 175.1 511.2 L 174.2 515.0 L 173.3 518.8 L 172.5 522.7 L 171.8 526.6 L 171.1 530.5 L 170.4 534.5 L 169.7 538.4 L 169.1 542.4 L 168.6 546.4 L 168.0 550.5 L 167.5 554.5 L 167.0 558.5 L 166.5 562.5 L 166.1 566.5 L 165.7 570.4 L 165.4 574.3 L 165.0 578.2 L 164.7 582.1 L 164.5 586.0 L 164.3 589.9 L 164.1 593.8 L 163.9 597.6 L 163.8 601.4 L 163.6 605.2 L 163.5 608.9 L 163.5 612.6 L 163.4 616.2 L 163.3 619.8 L 163.3 623.4 L 163.3 626.9 L 163.3 630.4 L 163.3 633.8 L 163.3 637.3 L 163.4 640.7 L 163.4 644.0 L 163.5 647.3 L 163.6 650.6 L 163.8 653.9 L 163.9 657.1 L 164.1 660.3 L 164.3 663.4 L 164.5 666.3 L 164.7 669.2 L 165.0 671.9 L 165.2 674.7 L 165.5 677.4 L 165.9 680.2 L 166.2 683.0 L 166.5 685.9 L 166.9 689.0 L 167.3 692.2 L 167.7 695.7 L 168.1 699.4 L 168.6 703.4 L 169.1 707.7 L 169.7 712.1 L 170.2 716.7 L 170.8 721.3 L 171.4 725.8 L 172.0 730.4 L 172.6 734.8 L 173.2 739.0 L 173.7 743.1 L 174.2 746.8 L 174.8 750.3 L 175.3 753.8 L 175.9 757.2 L 176.4 760.4 L 177.0 763.5 L 177.5 766.5 L 178.0 769.4 L 178.5 772.1 L 179.0 774.6 L 179.4 776.9 L 179.8 779.0 L 180.1 781.0 L 180.4 782.7 L 180.7 784.2 L 181.0 785.4 L 181.2 786.5 L 181.4 787.4 L 181.5 788.2 L 181.7 788.9 L 181.8 789.4 L 181.9 789.9 L 182.0 790.3 L 182.1 790.7 L 182.1 791.0 L 192.9 789.0 L 192.8 788.5 L 192.7 788.1 L 192.6 787.6 L 192.5 787.2 L 192.4 786.6 L 192.3 786.0 L 192.2 785.3 L 192.0 784.5 L 191.8 783.4 L 191.6 782.2 L 191.3 780.7 L 191.1 779.0 L 190.7 777.1 L 190.4 774.9 L 189.9 772.6 L 189.5 770.1 L 189.0 767.4 L 188.5 764.6 L 188.0 761.6 L 187.5 758.6 L 187.0 755.4 L 186.5 752.1 L 186.0 748.7 L 185.6 745.2 L 185.1 741.5 L 184.6 737.6 L 184.1 733.3 L 183.6 729.0 L 183.0 724.4 L 182.5 719.9 L 182.0 715.3 L 181.5 710.8 L 181.1 706.4 L 180.7 702.1 L 180.3 698.1 L 179.9 694.3 L 179.6 690.9 L 179.3 687.6 L 179.0 684.6 L 178.8 681.7 L 178.5 678.9 L 178.3 676.2 L 178.1 673.6 L 178.0 670.9 L 177.8 668.3 L 177.7 665.5 L 177.6 662.7 L 177.5 659.7 L 177.4 656.6 L 177.4 653.5 L 177.4 650.3 L 177.4 647.1 L 177.4 643.9 L 177.4 640.6 L 177.4 637.3 L 177.5 633.9 L 177.6 630.5 L 177.7 627.1 L 177.8 623.7 L 177.9 620.2 L 178.0 616.6 L 178.1 613.0 L 178.2 609.4 L 178.4 605.7 L 178.5 602.0 L 178.7 598.3 L 178.9 594.5 L 179.1 590.8 L 179.3 587.0 L 179.6 583.2 L 179.9 579.4 L 180.2 575.7 L 180.6 571.9 L 181.0 568.0 L 181.4 564.1 L 181.9 560.2 L 182.3 556.3 L 182.8 552.4 L 183.3 548.5 L 183.9 544.6 L 184.5 540.7 L 185.1 536.9 L 185.7 533.1 L 186.4 529.4 L 187.2 525.8 L 188.0 522.2 L 188.9 518.6 L 189.8 515.0 L 190.8 511.4 L 191.8 507.8 L 192.8 504.2 L 193.8 500.6 L 194.8 496.9 L 195.8 493.2 L 196.8 489.5 L 197.7 485.7 L 198.5 481.9 L 199.4 478.1 L 200.3 474.1 L 201.2 470.1 L 202.0 466.1 L 202.9 462.1 L 203.7 458.2 L 204.4 454.4 L 205.1 450.7 L 205.7 447.3 L 206.3 444.0 L 206.7 441.0 L 207.1 438.3 L 207.3 435.8 L 207.4 433.5 L 207.4 431.4 L 207.4 429.5 L 207.3 427.7 L 207.1 426.1 L 207.0 424.7 L 206.9 423.3 L 206.7 422.1 L 206.6 420.8 L 206.6 419.4 L 206.5 417.7 L 206.5 415.9 L 206.4 414.1 L 206.3 412.3 L 206.3 410.5 L 206.2 408.8 L 206.1 407.0 L 206.0 405.3 L 205.9 403.7 L 205.8 402.0 L 205.7 400.5 L 205.6 399.0 L 205.5 397.6 L 205.4 396.2 L 205.4 394.9 L 205.3 393.5 L 205.2 392.2 L 205.1 390.8 L 205.0 389.4 L 204.8 387.9 L 204.6 386.4 L 204.4 384.8 L 204.1 383.2 L 203.8 381.6 L 203.4 380.0 L 203.1 378.5 L 202.7 377.0 L 202.3 375.4 L 201.8 373.8 L 201.3 372.2 L 200.8 370.6 L 200.2 369.0 L 199.6 367.4 L 198.9 365.8 L 198.2 364.2 L 197.5 362.6 L 196.7 361.1 L 196.0 359.6 L 195.2 358.2 L 194.3 356.7 L 193.4 355.3 L 192.5 353.9 L 191.5 352.5 L 190.5 351.2 L 189.4 349.8 L 188.2 348.5 L 187.0 347.3 L 185.7 346.1 L 184.3 344.8 L 182.8 343.7 L 181.4 342.7 L 179.9 341.8 L 178.4 340.9 L 177.0 340.1 L 175.5 339.4 L 174.2 338.8 L 172.8 338.2 L 171.5 337.7 L 170.3 337.2 L 168.9 336.7 L 167.3 336.2 L 165.6 335.8 L 163.9 335.4 L 162.3 335.2 L 160.8 335.0 L 159.4 334.8 L 158.0 334.6 L 156.8 334.5 L 155.7 334.4 L 154.9 334.4 L 154.3 334.3 L 153.8 334.3 Z" fill="url(#uBody)"/><path d="M 151.3 353.6 L 152.0 353.7 L 152.8 353.8 L 153.8 353.9 L 154.8 354.0 L 155.9 354.1 L 157.0 354.2 L 158.2 354.4 L 159.3 354.5 L 160.4 354.7 L 161.5 354.9 L 162.5 355.1 L 163.4 355.4 L 164.4 355.7 L 165.5 356.0 L 166.5 356.3 L 167.5 356.6 L 168.6 357.0 L 169.6 357.3 L 170.5 357.7 L 171.5 358.1 L 172.4 358.6 L 173.2 359.0 L 174.1 359.5 L 174.9 360.0 L 175.7 360.6 L 176.5 361.3 L 177.3 362.0 L 178.2 362.7 L 179.0 363.6 L 179.8 364.4 L 180.6 365.3 L 181.3 366.2 L 182.1 367.2 L 182.8 368.2 L 183.5 369.2 L 184.2 370.2 L 184.8 371.2 L 185.4 372.3 L 185.9 373.5 L 186.5 374.7 L 187.0 375.9 L 187.5 377.2 L 188.0 378.5 L 188.5 379.8 L 188.9 381.1 L 189.3 382.4 L 189.7 383.7 L 190.0 385.0 L 190.3 386.2 L 190.6 387.4 L 190.8 388.5 L 191.0 389.7 L 191.1 390.9 L 191.3 392.1 L 191.4 393.4 L 191.5 394.7 L 191.6 396.1 L 191.8 397.5 L 191.9 398.9 L 192.1 400.4 L 192.3 402.0 L 192.5 403.5 L 192.7 405.1 L 193.0 406.8 L 193.2 408.5 L 193.4 410.1 L 193.6 411.8 L 193.8 413.5 L 194.0 415.2 L 194.2 416.9 L 194.4 418.6 L 194.5 420.3 L 194.7 421.9 L 194.9 423.5 L 195.1 424.9 L 195.3 426.2 L 195.4 427.5 L 195.6 428.8 L 195.7 430.2 L 195.8 431.6 L 195.8 433.2 L 195.7 435.1 L 195.6 437.2 L 195.3 439.6 L 194.9 442.3 L 194.5 445.4 L 193.9 448.7 L 193.3 452.3 L 192.6 456.0 L 191.8 459.9 L 191.0 463.8 L 190.2 467.8 L 189.4 471.8 L 188.5 475.7 L 187.7 479.6 L 186.9 483.3 L 186.1 486.9 L 185.2 490.5 L 184.3 494.1 L 183.3 497.7 L 182.4 501.4 L 181.4 505.0 L 180.5 508.7 L 179.5 512.4 L 178.6 516.1 L 177.7 519.8 L 176.9 523.6 L 176.1 527.4 L 175.4 531.3 L 174.8 535.2 L 174.1 539.1 L 173.5 543.1 L 173.0 547.1 L 172.4 551.0 L 171.9 555.0 L 171.4 559.0 L 171.0 563.0 L 170.5 566.9 L 170.2 570.8 L 169.8 574.7 L 169.5 578.6 L 169.2 582.5 L 168.9 586.3 L 168.7 590.2 L 168.5 594.0 L 168.3 597.8 L 168.2 601.6 L 168.0 605.3 L 167.9 609.1 L 167.8 612.7 L 167.7 616.4 L 167.7 619.9 L 167.6 623.5 L 167.6 627.0 L 167.5 630.4 L 167.5 633.9 L 167.5 637.3 L 167.5 640.6 L 167.6 644.0 L 167.6 647.3 L 167.7 650.5 L 167.8 653.8 L 167.9 657.0 L 168.1 660.1 L 168.2 663.2 L 168.4 666.1 L 168.6 668.9 L 168.8 671.6 L 169.1 674.3 L 169.3 677.0 L 169.6 679.8 L 169.9 682.6 L 170.2 685.5 L 170.6 688.6 L 170.9 691.8 L 171.3 695.3 L 171.8 699.0 L 172.2 703.0 L 172.7 707.3 L 173.2 711.7 L 173.8 716.3 L 174.3 720.8 L 174.9 725.4 L 175.4 730.0 L 176.0 734.4 L 176.6 738.6 L 177.1 742.6 L 177.6 746.3 L 178.1 749.8 L 178.6 753.3 L 179.2 756.6 L 179.7 759.9 L 180.3 763.0 L 180.8 766.0 L 181.3 768.8 L 181.8 771.5 L 182.2 774.0 L 182.7 776.3 L 183.0 778.5 L 183.4 780.4 L 183.7 782.1 L 184.0 783.6 L 184.2 784.8 L 184.4 785.9 L 184.6 786.8 L 184.7 787.6 L 184.9 788.2 L 185.0 788.8 L 185.1 789.2 L 185.2 789.6 L 185.3 790.0 L 185.3 790.4 L 189.7 789.6 L 189.6 789.2 L 189.5 788.7 L 189.4 788.3 L 189.3 787.8 L 189.2 787.3 L 189.1 786.7 L 188.9 785.9 L 188.8 785.1 L 188.6 784.0 L 188.4 782.8 L 188.1 781.3 L 187.8 779.6 L 187.5 777.7 L 187.1 775.5 L 186.7 773.2 L 186.2 770.7 L 185.7 768.0 L 185.2 765.2 L 184.7 762.2 L 184.2 759.1 L 183.7 755.9 L 183.2 752.6 L 182.7 749.2 L 182.2 745.7 L 181.7 742.0 L 181.2 738.0 L 180.7 733.8 L 180.1 729.4 L 179.6 724.9 L 179.1 720.3 L 178.5 715.7 L 178.0 711.2 L 177.5 706.8 L 177.1 702.5 L 176.7 698.5 L 176.3 694.7 L 175.9 691.3 L 175.6 688.0 L 175.3 685.0 L 175.0 682.1 L 174.8 679.3 L 174.5 676.6 L 174.3 673.9 L 174.1 671.2 L 173.9 668.5 L 173.8 665.8 L 173.6 662.9 L 173.5 659.9 L 173.4 656.8 L 173.3 653.6 L 173.3 650.4 L 173.2 647.2 L 173.2 643.9 L 173.2 640.6 L 173.2 637.3 L 173.3 633.9 L 173.3 630.5 L 173.4 627.1 L 173.5 623.6 L 173.5 620.1 L 173.6 616.5 L 173.7 612.9 L 173.9 609.2 L 174.0 605.5 L 174.1 601.8 L 174.3 598.1 L 174.5 594.3 L 174.7 590.5 L 174.9 586.7 L 175.2 582.9 L 175.5 579.1 L 175.8 575.3 L 176.2 571.4 L 176.6 567.6 L 177.0 563.7 L 177.4 559.7 L 177.9 555.8 L 178.4 551.8 L 178.9 547.9 L 179.5 544.0 L 180.1 540.1 L 180.7 536.2 L 181.4 532.3 L 182.1 528.6 L 182.8 524.9 L 183.6 521.2 L 184.5 517.5 L 185.4 513.9 L 186.4 510.2 L 187.4 506.6 L 188.4 503.0 L 189.4 499.4 L 190.4 495.7 L 191.3 492.1 L 192.2 488.4 L 193.1 484.7 L 193.9 480.9 L 194.8 477.1 L 195.7 473.1 L 196.5 469.1 L 197.4 465.1 L 198.2 461.1 L 199.0 457.3 L 199.7 453.5 L 200.4 449.9 L 201.0 446.5 L 201.5 443.3 L 201.9 440.4 L 202.2 437.8 L 202.4 435.5 L 202.5 433.4 L 202.5 431.5 L 202.4 429.8 L 202.3 428.2 L 202.2 426.7 L 202.0 425.3 L 201.9 424.0 L 201.7 422.7 L 201.6 421.3 L 201.5 419.7 L 201.4 418.1 L 201.3 416.3 L 201.2 414.6 L 201.0 412.8 L 200.9 411.1 L 200.8 409.4 L 200.6 407.6 L 200.5 406.0 L 200.3 404.3 L 200.2 402.7 L 200.0 401.1 L 199.9 399.6 L 199.8 398.1 L 199.6 396.7 L 199.5 395.4 L 199.4 394.0 L 199.3 392.7 L 199.2 391.4 L 199.1 390.0 L 198.9 388.7 L 198.8 387.3 L 198.5 385.9 L 198.3 384.5 L 198.0 383.0 L 197.6 381.6 L 197.2 380.2 L 196.8 378.7 L 196.4 377.2 L 196.0 375.8 L 195.5 374.3 L 194.9 372.8 L 194.4 371.4 L 193.8 370.0 L 193.2 368.5 L 192.5 367.2 L 191.8 365.8 L 191.1 364.5 L 190.4 363.2 L 189.6 362.0 L 188.8 360.8 L 188.0 359.5 L 187.1 358.3 L 186.2 357.2 L 185.3 356.1 L 184.3 355.0 L 183.3 353.9 L 182.2 352.9 L 181.1 352.0 L 180.0 351.1 L 178.8 350.2 L 177.5 349.4 L 176.3 348.7 L 175.1 348.0 L 173.8 347.4 L 172.6 346.9 L 171.4 346.3 L 170.1 345.9 L 168.9 345.4 L 167.8 345.0 L 166.6 344.6 L 165.3 344.2 L 163.9 343.9 L 162.4 343.6 L 161.0 343.4 L 159.7 343.2 L 158.4 343.0 L 157.1 342.9 L 155.9 342.8 L 154.9 342.7 L 154.0 342.6 L 153.3 342.5 L 152.7 342.4 Z" fill="#dec4a8" opacity="0.55" filter="url(#blur2)"/><path d="M 149.8 364.4 L 150.6 364.5 L 151.7 364.6 L 152.7 364.7 L 153.7 364.8 L 154.7 365.0 L 155.7 365.1 L 156.7 365.2 L 157.6 365.4 L 158.5 365.5 L 159.2 365.6 L 159.8 365.7 L 160.3 365.8 L 161.1 366.0 L 162.1 366.2 L 163.0 366.4 L 163.8 366.6 L 164.6 366.8 L 165.4 367.0 L 166.1 367.1 L 166.8 367.3 L 167.4 367.4 L 167.9 367.6 L 168.3 367.7 L 168.8 367.8 L 169.3 368.1 L 169.9 368.4 L 170.6 368.8 L 171.3 369.2 L 172.0 369.7 L 172.7 370.3 L 173.4 370.9 L 174.1 371.5 L 174.8 372.2 L 175.5 372.9 L 176.1 373.7 L 176.7 374.4 L 177.2 375.2 L 177.8 376.0 L 178.3 376.9 L 178.8 377.9 L 179.3 378.9 L 179.8 380.0 L 180.3 381.1 L 180.8 382.3 L 181.2 383.4 L 181.6 384.6 L 182.0 385.8 L 182.3 386.9 L 182.6 387.8 L 182.9 388.8 L 183.1 389.7 L 183.2 390.7 L 183.4 391.8 L 183.5 392.9 L 183.7 394.1 L 183.8 395.4 L 184.0 396.7 L 184.1 398.1 L 184.3 399.7 L 184.6 401.2 L 184.8 402.8 L 185.1 404.4 L 185.4 406.0 L 185.7 407.6 L 186.0 409.2 L 186.3 410.9 L 186.6 412.6 L 186.8 414.2 L 187.1 415.9 L 187.4 417.5 L 187.6 419.1 L 187.8 420.8 L 188.0 422.5 L 188.2 424.2 L 188.5 425.7 L 188.7 427.1 L 188.9 428.3 L 189.1 429.4 L 189.2 430.5 L 189.3 431.7 L 189.3 433.1 L 189.2 434.7 L 189.1 436.6 L 188.9 438.8 L 188.6 441.4 L 188.2 444.4 L 187.7 447.6 L 187.1 451.1 L 186.4 454.8 L 185.7 458.6 L 184.9 462.5 L 184.1 466.5 L 183.3 470.5 L 182.5 474.4 L 181.7 478.2 L 180.9 481.9 L 180.1 485.5 L 179.3 489.0 L 178.4 492.6 L 177.5 496.2 L 176.6 499.8 L 175.6 503.4 L 174.7 507.1 L 173.7 510.9 L 172.8 514.7 L 172.0 518.5 L 171.1 522.4 L 170.4 526.3 L 169.7 530.3 L 169.0 534.2 L 168.3 538.2 L 167.7 542.2 L 167.1 546.2 L 166.6 550.3 L 166.1 554.3 L 165.6 558.3 L 165.1 562.3 L 164.7 566.3 L 164.3 570.3 L 163.9 574.2 L 163.6 578.1 L 163.3 582.0 L 163.1 585.9 L 162.8 589.8 L 162.6 593.7 L 162.5 597.6 L 162.4 601.4 L 162.2 605.1 L 162.1 608.9 L 162.1 612.6 L 162.0 616.2 L 162.0 619.8 L 161.9 623.4 L 161.9 626.9 L 161.9 630.4 L 161.9 633.8 L 162.0 637.3 L 162.0 640.7 L 162.1 644.0 L 162.2 647.3 L 162.3 650.6 L 162.5 653.9 L 162.6 657.1 L 162.8 660.3 L 163.0 663.4 L 163.2 666.4 L 163.5 669.3 L 163.7 672.0 L 164.0 674.8 L 164.3 677.5 L 164.6 680.3 L 165.0 683.1 L 165.3 686.0 L 165.7 689.1 L 166.1 692.3 L 166.5 695.8 L 167.0 699.5 L 167.5 703.6 L 168.0 707.8 L 168.6 712.3 L 169.1 716.8 L 169.7 721.4 L 170.3 726.0 L 170.9 730.5 L 171.5 734.9 L 172.1 739.2 L 172.6 743.2 L 173.2 746.9 L 173.7 750.5 L 174.2 754.0 L 174.8 757.3 L 175.4 760.6 L 175.9 763.7 L 176.4 766.7 L 177.0 769.6 L 177.5 772.3 L 177.9 774.8 L 178.4 777.1 L 178.7 779.2 L 179.1 781.1 L 179.4 782.8 L 179.7 784.3 L 179.9 785.6 L 180.1 786.7 L 180.3 787.6 L 180.5 788.4 L 180.6 789.1 L 180.8 789.6 L 180.9 790.1 L 181.0 790.5 L 181.0 790.9 L 181.1 791.2 L 193.9 788.8 L 193.8 788.3 L 193.7 787.9 L 193.6 787.4 L 193.5 787.0 L 193.4 786.4 L 193.3 785.8 L 193.2 785.1 L 193.0 784.3 L 192.8 783.2 L 192.6 782.0 L 192.4 780.6 L 192.1 778.9 L 191.8 776.9 L 191.4 774.7 L 191.0 772.4 L 190.5 769.9 L 190.1 767.2 L 189.6 764.4 L 189.1 761.5 L 188.6 758.4 L 188.1 755.2 L 187.6 751.9 L 187.1 748.5 L 186.6 745.1 L 186.2 741.4 L 185.7 737.4 L 185.2 733.2 L 184.7 728.8 L 184.2 724.3 L 183.7 719.7 L 183.2 715.2 L 182.7 710.6 L 182.2 706.2 L 181.8 702.0 L 181.4 698.0 L 181.1 694.2 L 180.7 690.8 L 180.5 687.5 L 180.2 684.5 L 179.9 681.6 L 179.7 678.8 L 179.5 676.1 L 179.4 673.5 L 179.2 670.9 L 179.1 668.2 L 179.0 665.5 L 178.9 662.6 L 178.8 659.7 L 178.7 656.6 L 178.7 653.5 L 178.7 650.3 L 178.7 647.1 L 178.7 643.9 L 178.7 640.6 L 178.8 637.3 L 178.8 633.9 L 178.9 630.6 L 179.0 627.1 L 179.1 623.7 L 179.2 620.2 L 179.4 616.6 L 179.5 613.1 L 179.6 609.4 L 179.8 605.7 L 179.9 602.0 L 180.1 598.3 L 180.3 594.6 L 180.5 590.8 L 180.8 587.1 L 181.0 583.3 L 181.3 579.6 L 181.7 575.8 L 182.0 572.0 L 182.4 568.2 L 182.8 564.3 L 183.3 560.4 L 183.7 556.5 L 184.2 552.6 L 184.7 548.7 L 185.3 544.8 L 185.9 541.0 L 186.5 537.1 L 187.1 533.4 L 187.8 529.7 L 188.6 526.1 L 189.4 522.5 L 190.3 518.9 L 191.2 515.3 L 192.2 511.8 L 193.2 508.2 L 194.2 504.6 L 195.2 500.9 L 196.3 497.3 L 197.3 493.6 L 198.2 489.8 L 199.1 486.1 L 200.0 482.3 L 200.9 478.4 L 201.8 474.4 L 202.7 470.4 L 203.5 466.4 L 204.4 462.4 L 205.2 458.5 L 205.9 454.7 L 206.6 451.0 L 207.3 447.5 L 207.8 444.2 L 208.3 441.2 L 208.6 438.4 L 208.8 435.9 L 209.0 433.5 L 209.0 431.4 L 209.0 429.4 L 208.9 427.6 L 208.7 426.0 L 208.6 424.5 L 208.4 423.1 L 208.3 421.9 L 208.3 420.6 L 208.2 419.2 L 208.2 417.6 L 208.1 415.8 L 208.1 414.0 L 208.0 412.2 L 208.0 410.4 L 207.9 408.6 L 207.8 406.9 L 207.8 405.1 L 207.7 403.5 L 207.6 401.8 L 207.5 400.2 L 207.4 398.8 L 207.4 397.4 L 207.3 396.1 L 207.2 394.7 L 207.1 393.4 L 207.1 392.0 L 207.0 390.6 L 206.8 389.2 L 206.7 387.6 L 206.5 386.1 L 206.3 384.5 L 206.0 382.8 L 205.7 381.1 L 205.3 379.6 L 204.9 378.0 L 204.5 376.4 L 204.1 374.8 L 203.7 373.1 L 203.2 371.5 L 202.6 369.9 L 202.0 368.2 L 201.4 366.5 L 200.8 364.9 L 200.1 363.2 L 199.3 361.6 L 198.5 360.0 L 197.7 358.5 L 196.9 357.0 L 196.1 355.4 L 195.2 354.0 L 194.2 352.5 L 193.2 351.0 L 192.1 349.6 L 191.0 348.2 L 189.8 346.8 L 188.6 345.5 L 187.2 344.2 L 185.7 342.9 L 184.1 341.6 L 182.6 340.5 L 181.0 339.5 L 179.5 338.6 L 178.0 337.8 L 176.5 337.0 L 175.1 336.4 L 173.7 335.7 L 172.3 335.2 L 171.1 334.7 L 169.7 334.2 L 167.9 333.6 L 166.1 333.2 L 164.4 332.8 L 162.7 332.5 L 161.2 332.3 L 159.7 332.2 L 158.3 332.0 L 157.1 331.9 L 156.0 331.8 L 155.2 331.7 L 154.6 331.7 L 154.2 331.6 Z" fill="url(#pel2L)" clip-path="url(#pcL)"/><path d="M 149.8 364.4 L 150.6 364.5 L 151.7 364.6 L 152.7 364.7 L 153.7 364.8 L 154.7 365.0 L 155.7 365.1 L 156.7 365.2 L 157.6 365.4 L 158.5 365.5 L 159.2 365.6 L 159.8 365.7 L 160.3 365.8 L 161.1 366.0 L 162.1 366.2 L 163.0 366.4 L 163.8 366.6 L 164.6 366.8 L 165.4 367.0 L 166.1 367.1 L 166.8 367.3 L 167.4 367.4 L 167.9 367.6 L 168.3 367.7 L 168.8 367.8 L 169.3 368.1 L 169.9 368.4 L 170.6 368.8 L 171.3 369.2 L 172.0 369.7 L 172.7 370.3 L 173.4 370.9 L 174.1 371.5 L 174.8 372.2 L 175.5 372.9 L 176.1 373.7 L 176.7 374.4 L 177.2 375.2 L 177.8 376.0 L 178.3 376.9 L 178.8 377.9 L 179.3 378.9 L 179.8 380.0 L 180.3 381.1 L 180.8 382.3 L 181.2 383.4 L 181.6 384.6 L 182.0 385.8 L 182.3 386.9 L 182.6 387.8 L 182.9 388.8 L 183.1 389.7 L 183.2 390.7 L 183.4 391.8 L 183.5 392.9 L 183.7 394.1 L 183.8 395.4 L 184.0 396.7 L 184.1 398.1 L 184.3 399.7 L 184.6 401.2 L 184.8 402.8 L 185.1 404.4 L 185.4 406.0 L 185.7 407.6 L 186.0 409.2 L 186.3 410.9 L 186.6 412.6 L 186.8 414.2 L 187.1 415.9 L 187.4 417.5 L 187.6 419.1 L 187.8 420.8 L 188.0 422.5 L 188.2 424.2 L 188.5 425.7 L 188.7 427.1 L 188.9 428.3 L 189.1 429.4 L 189.2 430.5 L 189.3 431.7 L 189.3 433.1 L 189.2 434.7 L 189.1 436.6 L 188.9 438.8 L 188.6 441.4 L 188.2 444.4 L 187.7 447.6 L 187.1 451.1 L 186.4 454.8 L 185.7 458.6 L 184.9 462.5 L 184.1 466.5 L 183.3 470.5 L 182.5 474.4 L 181.7 478.2 L 180.9 481.9 L 180.1 485.5 L 179.3 489.0 L 178.4 492.6 L 177.5 496.2 L 176.6 499.8 L 175.6 503.4 L 174.7 507.1 L 173.7 510.9 L 172.8 514.7 L 172.0 518.5 L 171.1 522.4 L 170.4 526.3 L 169.7 530.3 L 169.0 534.2 L 168.3 538.2 L 167.7 542.2 L 167.1 546.2 L 166.6 550.3 L 166.1 554.3 L 165.6 558.3 L 165.1 562.3 L 164.7 566.3 L 164.3 570.3 L 163.9 574.2 L 163.6 578.1 L 163.3 582.0 L 163.1 585.9 L 162.8 589.8 L 162.6 593.7 L 162.5 597.6 L 162.4 601.4 L 162.2 605.1 L 162.1 608.9 L 162.1 612.6 L 162.0 616.2 L 162.0 619.8 L 161.9 623.4 L 161.9 626.9 L 161.9 630.4 L 161.9 633.8 L 162.0 637.3 L 162.0 640.7 L 162.1 644.0 L 162.2 647.3 L 162.3 650.6 L 162.5 653.9 L 162.6 657.1 L 162.8 660.3 L 163.0 663.4 L 163.2 666.4 L 163.5 669.3 L 163.7 672.0 L 164.0 674.8 L 164.3 677.5 L 164.6 680.3 L 165.0 683.1 L 165.3 686.0 L 165.7 689.1 L 166.1 692.3 L 166.5 695.8 L 167.0 699.5 L 167.5 703.6 L 168.0 707.8 L 168.6 712.3 L 169.1 716.8 L 169.7 721.4 L 170.3 726.0 L 170.9 730.5 L 171.5 734.9 L 172.1 739.2 L 172.6 743.2 L 173.2 746.9 L 173.7 750.5 L 174.2 754.0 L 174.8 757.3 L 175.4 760.6 L 175.9 763.7 L 176.4 766.7 L 177.0 769.6 L 177.5 772.3 L 177.9 774.8 L 178.4 777.1 L 178.7 779.2 L 179.1 781.1 L 179.4 782.8 L 179.7 784.3 L 179.9 785.6 L 180.1 786.7 L 180.3 787.6 L 180.5 788.4 L 180.6 789.1 L 180.8 789.6 L 180.9 790.1 L 181.0 790.5 L 181.0 790.9 L 181.1 791.2 L 193.9 788.8 L 193.8 788.3 L 193.7 787.9 L 193.6 787.4 L 193.5 787.0 L 193.4 786.4 L 193.3 785.8 L 193.2 785.1 L 193.0 784.3 L 192.8 783.2 L 192.6 782.0 L 192.4 780.6 L 192.1 778.9 L 191.8 776.9 L 191.4 774.7 L 191.0 772.4 L 190.5 769.9 L 190.1 767.2 L 189.6 764.4 L 189.1 761.5 L 188.6 758.4 L 188.1 755.2 L 187.6 751.9 L 187.1 748.5 L 186.6 745.1 L 186.2 741.4 L 185.7 737.4 L 185.2 733.2 L 184.7 728.8 L 184.2 724.3 L 183.7 719.7 L 183.2 715.2 L 182.7 710.6 L 182.2 706.2 L 181.8 702.0 L 181.4 698.0 L 181.1 694.2 L 180.7 690.8 L 180.5 687.5 L 180.2 684.5 L 179.9 681.6 L 179.7 678.8 L 179.5 676.1 L 179.4 673.5 L 179.2 670.9 L 179.1 668.2 L 179.0 665.5 L 178.9 662.6 L 178.8 659.7 L 178.7 656.6 L 178.7 653.5 L 178.7 650.3 L 178.7 647.1 L 178.7 643.9 L 178.7 640.6 L 178.8 637.3 L 178.8 633.9 L 178.9 630.6 L 179.0 627.1 L 179.1 623.7 L 179.2 620.2 L 179.4 616.6 L 179.5 613.1 L 179.6 609.4 L 179.8 605.7 L 179.9 602.0 L 180.1 598.3 L 180.3 594.6 L 180.5 590.8 L 180.8 587.1 L 181.0 583.3 L 181.3 579.6 L 181.7 575.8 L 182.0 572.0 L 182.4 568.2 L 182.8 564.3 L 183.3 560.4 L 183.7 556.5 L 184.2 552.6 L 184.7 548.7 L 185.3 544.8 L 185.9 541.0 L 186.5 537.1 L 187.1 533.4 L 187.8 529.7 L 188.6 526.1 L 189.4 522.5 L 190.3 518.9 L 191.2 515.3 L 192.2 511.8 L 193.2 508.2 L 194.2 504.6 L 195.2 500.9 L 196.3 497.3 L 197.3 493.6 L 198.2 489.8 L 199.1 486.1 L 200.0 482.3 L 200.9 478.4 L 201.8 474.4 L 202.7 470.4 L 203.5 466.4 L 204.4 462.4 L 205.2 458.5 L 205.9 454.7 L 206.6 451.0 L 207.3 447.5 L 207.8 444.2 L 208.3 441.2 L 208.6 438.4 L 208.8 435.9 L 209.0 433.5 L 209.0 431.4 L 209.0 429.4 L 208.9 427.6 L 208.7 426.0 L 208.6 424.5 L 208.4 423.1 L 208.3 421.9 L 208.3 420.6 L 208.2 419.2 L 208.2 417.6 L 208.1 415.8 L 208.1 414.0 L 208.0 412.2 L 208.0 410.4 L 207.9 408.6 L 207.8 406.9 L 207.8 405.1 L 207.7 403.5 L 207.6 401.8 L 207.5 400.2 L 207.4 398.8 L 207.4 397.4 L 207.3 396.1 L 207.2 394.7 L 207.1 393.4 L 207.1 392.0 L 207.0 390.6 L 206.8 389.2 L 206.7 387.6 L 206.5 386.1 L 206.3 384.5 L 206.0 382.8 L 205.7 381.1 L 205.3 379.6 L 204.9 378.0 L 204.5 376.4 L 204.1 374.8 L 203.7 373.1 L 203.2 371.5 L 202.6 369.9 L 202.0 368.2 L 201.4 366.5 L 200.8 364.9 L 200.1 363.2 L 199.3 361.6 L 198.5 360.0 L 197.7 358.5 L 196.9 357.0 L 196.1 355.4 L 195.2 354.0 L 194.2 352.5 L 193.2 351.0 L 192.1 349.6 L 191.0 348.2 L 189.8 346.8 L 188.6 345.5 L 187.2 344.2 L 185.7 342.9 L 184.1 341.6 L 182.6 340.5 L 181.0 339.5 L 179.5 338.6 L 178.0 337.8 L 176.5 337.0 L 175.1 336.4 L 173.7 335.7 L 172.3 335.2 L 171.1 334.7 L 169.7 334.2 L 167.9 333.6 L 166.1 333.2 L 164.4 332.8 L 162.7 332.5 L 161.2 332.3 L 159.7 332.2 L 158.3 332.0 L 157.1 331.9 L 156.0 331.8 L 155.2 331.7 L 154.6 331.7 L 154.2 331.6 Z" fill="url(#pelL)"/></g>
<g mask="url(#mR)"><path d="M 327.6 296.3 L 327.2 296.5 L 326.7 296.7 L 325.9 296.9 L 324.9 297.2 L 323.6 297.5 L 322.3 297.9 L 320.8 298.3 L 319.2 298.8 L 317.5 299.4 L 315.7 300.1 L 313.9 300.8 L 312.1 301.7 L 310.7 302.4 L 309.3 303.2 L 308.0 304.1 L 306.6 304.9 L 305.2 305.9 L 303.8 306.9 L 302.4 308.0 L 301.0 309.1 L 299.6 310.3 L 298.3 311.5 L 296.9 312.9 L 295.6 314.3 L 294.3 315.8 L 293.2 317.4 L 292.1 318.9 L 291.2 320.4 L 290.3 321.9 L 289.5 323.4 L 288.8 324.8 L 288.1 326.2 L 287.5 327.6 L 286.9 329.0 L 286.3 330.3 L 285.7 331.7 L 285.2 333.1 L 284.6 334.5 L 284.1 335.9 L 283.6 337.4 L 283.1 338.8 L 282.7 340.3 L 282.2 341.7 L 281.8 343.2 L 281.4 344.7 L 281.0 346.2 L 280.7 347.7 L 280.3 349.3 L 280.0 350.9 L 279.7 352.5 L 279.4 354.1 L 279.1 355.8 L 278.9 357.4 L 278.6 359.0 L 278.4 360.7 L 278.2 362.3 L 278.0 364.0 L 277.8 365.6 L 277.7 367.3 L 277.6 368.9 L 277.4 370.4 L 277.4 371.9 L 277.3 373.4 L 277.2 375.0 L 277.1 376.5 L 277.1 378.1 L 277.1 379.7 L 277.1 381.4 L 277.1 383.2 L 277.1 385.0 L 277.2 387.0 L 277.3 389.1 L 277.3 391.4 L 277.5 393.8 L 277.6 396.4 L 277.8 399.2 L 277.9 402.0 L 278.1 404.9 L 278.3 407.7 L 278.5 410.6 L 278.8 413.4 L 279.0 416.0 L 279.3 418.6 L 279.5 420.9 L 279.8 423.1 L 280.1 425.0 L 280.4 426.7 L 280.7 428.3 L 281.0 429.7 L 281.3 431.2 L 281.7 432.5 L 282.0 434.0 L 282.4 435.6 L 282.8 437.3 L 283.3 439.4 L 283.8 441.8 L 284.4 444.6 L 285.1 447.8 L 285.8 451.1 L 286.6 454.7 L 287.4 458.4 L 288.3 462.3 L 289.1 466.2 L 290.0 470.2 L 290.8 474.1 L 291.6 478.0 L 292.3 481.8 L 293.0 485.5 L 293.7 489.1 L 294.3 492.7 L 294.9 496.4 L 295.5 500.0 L 296.0 503.7 L 296.6 507.4 L 297.1 511.0 L 297.6 514.7 L 298.1 518.3 L 298.6 521.9 L 299.1 525.5 L 299.6 529.1 L 300.1 532.7 L 300.5 536.2 L 301.0 539.8 L 301.5 543.3 L 301.9 546.8 L 302.3 550.2 L 302.8 553.7 L 303.2 557.1 L 303.5 560.5 L 303.9 563.9 L 304.2 567.3 L 304.5 570.6 L 304.7 574.0 L 305.0 577.3 L 305.2 580.6 L 305.3 583.9 L 305.5 587.2 L 305.6 590.4 L 305.7 593.7 L 305.8 596.9 L 305.9 600.2 L 306.0 603.5 L 306.0 606.7 L 306.1 610.0 L 306.1 613.3 L 306.1 616.7 L 306.1 620.0 L 306.1 623.4 L 306.1 626.7 L 306.0 630.1 L 306.0 633.4 L 305.9 636.7 L 305.8 639.9 L 305.7 643.2 L 305.5 646.3 L 305.4 649.4 L 305.2 652.4 L 304.9 655.3 L 304.7 658.2 L 304.4 661.0 L 304.1 663.8 L 303.8 666.6 L 303.4 669.4 L 303.1 672.2 L 302.7 675.0 L 302.3 678.0 L 302.0 680.9 L 301.6 684.0 L 301.2 687.1 L 300.8 690.2 L 300.4 693.3 L 300.0 696.5 L 299.5 699.7 L 299.1 702.9 L 298.6 706.2 L 298.2 709.5 L 297.7 712.8 L 297.2 716.2 L 296.7 719.6 L 296.2 723.0 L 295.6 726.6 L 295.1 730.3 L 294.5 734.2 L 293.9 738.1 L 293.3 742.1 L 292.6 746.1 L 292.0 750.0 L 291.4 753.8 L 290.8 757.4 L 290.2 760.8 L 289.7 764.0 L 289.2 766.9 L 288.7 769.5 L 288.3 772.0 L 287.8 774.3 L 287.3 776.5 L 286.9 778.5 L 286.5 780.4 L 286.1 782.1 L 285.7 783.7 L 285.4 785.2 L 285.1 786.5 L 284.8 787.6 L 284.6 788.7 L 297.0 791.3 L 297.2 790.4 L 297.5 789.3 L 297.7 788.0 L 298.1 786.5 L 298.4 784.9 L 298.8 783.1 L 299.2 781.2 L 299.7 779.1 L 300.1 776.8 L 300.6 774.4 L 301.1 771.8 L 301.6 769.1 L 302.1 766.2 L 302.7 762.9 L 303.2 759.5 L 303.8 755.8 L 304.5 752.0 L 305.1 748.1 L 305.7 744.1 L 306.4 740.1 L 307.0 736.1 L 307.6 732.3 L 308.2 728.6 L 308.8 725.0 L 309.4 721.6 L 310.0 718.2 L 310.5 714.8 L 311.1 711.5 L 311.7 708.2 L 312.2 705.0 L 312.8 701.7 L 313.4 698.5 L 313.9 695.4 L 314.4 692.2 L 314.9 689.1 L 315.4 686.0 L 315.9 683.0 L 316.4 680.0 L 316.9 677.1 L 317.4 674.3 L 317.8 671.4 L 318.3 668.6 L 318.7 665.7 L 319.2 662.8 L 319.6 659.9 L 320.0 656.8 L 320.3 653.8 L 320.6 650.6 L 320.9 647.4 L 321.2 644.1 L 321.4 640.8 L 321.6 637.4 L 321.8 634.0 L 322.0 630.6 L 322.2 627.1 L 322.3 623.7 L 322.4 620.2 L 322.5 616.8 L 322.5 613.4 L 322.5 610.0 L 322.6 606.6 L 322.5 603.3 L 322.5 599.9 L 322.4 596.5 L 322.4 593.2 L 322.3 589.8 L 322.1 586.5 L 322.0 583.1 L 321.8 579.7 L 321.6 576.3 L 321.4 572.8 L 321.1 569.4 L 320.9 565.9 L 320.5 562.4 L 320.2 558.8 L 319.9 555.3 L 319.5 551.8 L 319.1 548.3 L 318.7 544.7 L 318.2 541.2 L 317.8 537.6 L 317.4 534.0 L 316.9 530.5 L 316.4 526.9 L 315.9 523.3 L 315.5 519.6 L 315.0 516.0 L 314.4 512.3 L 313.9 508.6 L 313.4 504.9 L 312.8 501.2 L 312.2 497.4 L 311.6 493.7 L 311.0 490.0 L 310.4 486.2 L 309.8 482.5 L 309.1 478.7 L 308.4 474.8 L 307.6 470.8 L 306.8 466.7 L 306.0 462.7 L 305.2 458.7 L 304.4 454.8 L 303.6 451.1 L 302.9 447.5 L 302.2 444.1 L 301.6 441.0 L 301.0 438.2 L 300.5 435.7 L 300.0 433.5 L 299.6 431.6 L 299.3 429.9 L 298.9 428.5 L 298.6 427.2 L 298.4 426.1 L 298.2 424.9 L 298.0 423.8 L 297.8 422.4 L 297.6 420.9 L 297.5 419.1 L 297.3 417.0 L 297.1 414.6 L 297.0 412.1 L 296.9 409.5 L 296.8 406.8 L 296.8 404.0 L 296.7 401.3 L 296.7 398.5 L 296.7 395.9 L 296.7 393.4 L 296.7 391.0 L 296.7 388.9 L 296.8 387.0 L 296.9 385.2 L 297.0 383.6 L 297.1 382.1 L 297.2 380.7 L 297.3 379.3 L 297.5 378.0 L 297.7 376.7 L 297.8 375.3 L 298.0 374.0 L 298.2 372.6 L 298.4 371.1 L 298.7 369.7 L 298.9 368.2 L 299.1 366.7 L 299.3 365.3 L 299.6 363.9 L 299.8 362.5 L 300.1 361.1 L 300.4 359.7 L 300.7 358.4 L 301.0 357.1 L 301.3 355.9 L 301.7 354.7 L 302.0 353.6 L 302.4 352.4 L 302.8 351.3 L 303.3 350.2 L 303.7 349.1 L 304.1 348.1 L 304.6 347.1 L 305.1 346.1 L 305.6 345.2 L 306.1 344.2 L 306.7 343.3 L 307.3 342.3 L 307.9 341.3 L 308.5 340.3 L 309.2 339.3 L 309.8 338.4 L 310.4 337.6 L 311.1 336.8 L 311.7 336.0 L 312.3 335.4 L 312.9 334.8 L 313.4 334.3 L 313.9 334.0 L 314.4 333.7 L 315.0 333.4 L 315.5 333.1 L 316.2 332.8 L 317.0 332.5 L 317.8 332.2 L 318.6 331.9 L 319.5 331.6 L 320.4 331.3 L 321.3 331.0 L 322.2 330.7 L 323.1 330.5 L 323.9 330.3 L 324.4 330.3 L 324.9 330.3 L 325.6 330.2 L 326.5 330.2 L 327.4 330.1 L 328.4 330.1 L 329.4 330.0 L 330.4 330.0 L 331.4 329.9 L 332.4 329.9 L 333.5 329.8 L 334.4 329.7 Z" fill="#c3897a"/><path d="M 328.1 299.0 L 327.7 299.2 L 327.2 299.3 L 326.4 299.5 L 325.3 299.8 L 324.1 300.1 L 322.8 300.5 L 321.3 300.9 L 319.8 301.4 L 318.1 301.9 L 316.5 302.5 L 314.7 303.2 L 313.1 304.0 L 311.7 304.7 L 310.4 305.4 L 309.1 306.2 L 307.7 307.1 L 306.4 307.9 L 305.0 308.9 L 303.7 309.9 L 302.3 311.0 L 301.0 312.1 L 299.6 313.3 L 298.3 314.5 L 297.1 315.9 L 295.9 317.3 L 294.8 318.7 L 293.8 320.2 L 292.9 321.6 L 292.0 323.0 L 291.2 324.4 L 290.5 325.8 L 289.8 327.2 L 289.2 328.6 L 288.6 329.9 L 288.0 331.2 L 287.5 332.5 L 286.9 333.9 L 286.4 335.3 L 285.8 336.7 L 285.3 338.1 L 284.8 339.5 L 284.4 340.9 L 283.9 342.3 L 283.5 343.8 L 283.1 345.2 L 282.8 346.7 L 282.4 348.2 L 282.0 349.7 L 281.7 351.3 L 281.4 352.9 L 281.1 354.5 L 280.8 356.1 L 280.6 357.7 L 280.3 359.3 L 280.1 360.9 L 279.9 362.6 L 279.7 364.2 L 279.5 365.8 L 279.4 367.4 L 279.2 369.0 L 279.1 370.6 L 279.0 372.1 L 278.9 373.6 L 278.8 375.1 L 278.8 376.6 L 278.7 378.2 L 278.7 379.8 L 278.7 381.4 L 278.7 383.2 L 278.7 385.0 L 278.7 387.0 L 278.8 389.1 L 278.9 391.3 L 279.0 393.8 L 279.1 396.4 L 279.3 399.1 L 279.4 401.9 L 279.6 404.8 L 279.8 407.7 L 280.0 410.5 L 280.2 413.3 L 280.5 415.9 L 280.7 418.4 L 281.0 420.8 L 281.3 422.9 L 281.5 424.8 L 281.8 426.4 L 282.1 428.0 L 282.4 429.4 L 282.7 430.8 L 283.0 432.2 L 283.4 433.7 L 283.8 435.2 L 284.2 437.0 L 284.6 439.1 L 285.2 441.5 L 285.8 444.3 L 286.4 447.5 L 287.2 450.8 L 288.0 454.4 L 288.8 458.1 L 289.6 462.0 L 290.5 465.9 L 291.3 469.9 L 292.2 473.8 L 292.9 477.8 L 293.7 481.6 L 294.4 485.3 L 295.0 488.9 L 295.6 492.5 L 296.2 496.2 L 296.8 499.8 L 297.4 503.5 L 297.9 507.2 L 298.4 510.8 L 299.0 514.5 L 299.5 518.1 L 300.0 521.7 L 300.4 525.4 L 300.9 528.9 L 301.4 532.5 L 301.9 536.1 L 302.3 539.6 L 302.8 543.1 L 303.3 546.6 L 303.7 550.1 L 304.1 553.5 L 304.5 557.0 L 304.9 560.4 L 305.2 563.8 L 305.5 567.2 L 305.8 570.5 L 306.1 573.9 L 306.3 577.2 L 306.5 580.5 L 306.7 583.8 L 306.8 587.1 L 306.9 590.4 L 307.1 593.6 L 307.1 596.9 L 307.2 600.2 L 307.3 603.4 L 307.3 606.7 L 307.4 610.0 L 307.4 613.3 L 307.4 616.7 L 307.4 620.0 L 307.4 623.4 L 307.4 626.8 L 307.3 630.1 L 307.3 633.4 L 307.2 636.7 L 307.1 640.0 L 306.9 643.2 L 306.8 646.4 L 306.6 649.5 L 306.4 652.5 L 306.1 655.4 L 305.9 658.3 L 305.6 661.1 L 305.3 663.9 L 304.9 666.7 L 304.6 669.5 L 304.2 672.3 L 303.9 675.2 L 303.5 678.1 L 303.1 681.1 L 302.7 684.2 L 302.3 687.3 L 301.9 690.4 L 301.5 693.5 L 301.0 696.7 L 300.6 699.9 L 300.1 703.1 L 299.7 706.3 L 299.2 709.6 L 298.7 713.0 L 298.2 716.3 L 297.7 719.7 L 297.2 723.2 L 296.7 726.7 L 296.1 730.5 L 295.5 734.3 L 294.9 738.3 L 294.3 742.3 L 293.6 746.2 L 293.0 750.1 L 292.4 753.9 L 291.8 757.6 L 291.2 761.0 L 290.7 764.2 L 290.2 767.1 L 289.7 769.7 L 289.2 772.2 L 288.8 774.5 L 288.3 776.7 L 287.9 778.7 L 287.5 780.6 L 287.1 782.3 L 286.7 783.9 L 286.4 785.4 L 286.1 786.7 L 285.8 787.9 L 285.6 788.9 L 296.0 791.1 L 296.2 790.2 L 296.5 789.0 L 296.8 787.7 L 297.1 786.3 L 297.4 784.7 L 297.8 782.9 L 298.3 781.0 L 298.7 778.9 L 299.2 776.6 L 299.6 774.2 L 300.1 771.6 L 300.6 768.9 L 301.1 766.0 L 301.7 762.8 L 302.2 759.3 L 302.8 755.6 L 303.5 751.8 L 304.1 747.9 L 304.7 743.9 L 305.4 739.9 L 306.0 736.0 L 306.6 732.1 L 307.2 728.4 L 307.8 724.8 L 308.4 721.4 L 308.9 718.0 L 309.5 714.7 L 310.1 711.3 L 310.6 708.1 L 311.2 704.8 L 311.7 701.6 L 312.3 698.4 L 312.8 695.2 L 313.3 692.1 L 313.8 688.9 L 314.3 685.8 L 314.8 682.8 L 315.3 679.9 L 315.8 677.0 L 316.2 674.1 L 316.7 671.3 L 317.1 668.4 L 317.6 665.5 L 318.0 662.7 L 318.4 659.7 L 318.8 656.7 L 319.1 653.7 L 319.4 650.5 L 319.7 647.3 L 319.9 644.0 L 320.2 640.7 L 320.4 637.3 L 320.6 633.9 L 320.7 630.5 L 320.9 627.1 L 321.0 623.6 L 321.1 620.2 L 321.2 616.8 L 321.2 613.4 L 321.2 610.0 L 321.2 606.6 L 321.2 603.3 L 321.2 599.9 L 321.1 596.6 L 321.0 593.2 L 320.9 589.9 L 320.8 586.5 L 320.6 583.1 L 320.5 579.7 L 320.3 576.3 L 320.0 572.9 L 319.8 569.5 L 319.5 566.0 L 319.2 562.5 L 318.9 559.0 L 318.5 555.5 L 318.1 551.9 L 317.8 548.4 L 317.3 544.9 L 316.9 541.3 L 316.5 537.8 L 316.0 534.2 L 315.5 530.6 L 315.1 527.1 L 314.6 523.5 L 314.1 519.8 L 313.6 516.2 L 313.1 512.5 L 312.6 508.8 L 312.0 505.1 L 311.5 501.4 L 310.9 497.6 L 310.3 493.9 L 309.7 490.2 L 309.1 486.5 L 308.4 482.7 L 307.7 478.9 L 307.0 475.0 L 306.2 471.0 L 305.5 467.0 L 304.6 463.0 L 303.8 459.0 L 303.0 455.1 L 302.3 451.4 L 301.5 447.8 L 300.8 444.4 L 300.2 441.3 L 299.6 438.5 L 299.1 436.0 L 298.7 433.8 L 298.2 431.9 L 297.9 430.3 L 297.5 428.8 L 297.2 427.5 L 297.0 426.4 L 296.8 425.2 L 296.6 424.0 L 296.4 422.6 L 296.2 421.1 L 296.0 419.2 L 295.8 417.1 L 295.7 414.7 L 295.6 412.2 L 295.5 409.6 L 295.4 406.9 L 295.3 404.1 L 295.2 401.3 L 295.2 398.6 L 295.2 395.9 L 295.2 393.4 L 295.2 391.1 L 295.2 388.9 L 295.2 387.0 L 295.3 385.2 L 295.4 383.6 L 295.5 382.0 L 295.6 380.6 L 295.7 379.2 L 295.9 377.9 L 296.0 376.5 L 296.2 375.2 L 296.4 373.8 L 296.6 372.4 L 296.8 371.0 L 297.0 369.5 L 297.2 368.0 L 297.4 366.5 L 297.6 365.1 L 297.9 363.6 L 298.1 362.2 L 298.4 360.8 L 298.7 359.4 L 299.0 358.1 L 299.3 356.8 L 299.6 355.5 L 300.0 354.3 L 300.3 353.1 L 300.7 351.9 L 301.1 350.8 L 301.5 349.6 L 302.0 348.6 L 302.4 347.5 L 302.9 346.4 L 303.4 345.4 L 303.9 344.4 L 304.4 343.4 L 305.0 342.5 L 305.5 341.5 L 306.2 340.4 L 306.8 339.4 L 307.4 338.4 L 308.1 337.4 L 308.7 336.5 L 309.3 335.7 L 310.0 334.9 L 310.6 334.2 L 311.2 333.6 L 311.8 333.0 L 312.4 332.5 L 312.9 332.1 L 313.5 331.7 L 314.2 331.4 L 314.9 331.0 L 315.7 330.6 L 316.5 330.2 L 317.4 329.9 L 318.3 329.5 L 319.3 329.2 L 320.2 328.8 L 321.2 328.5 L 322.1 328.3 L 322.9 328.0 L 323.5 327.9 L 324.2 327.9 L 325.0 327.8 L 325.9 327.7 L 326.8 327.6 L 327.9 327.5 L 328.9 327.4 L 329.9 327.4 L 331.0 327.3 L 332.0 327.2 L 333.0 327.1 L 333.9 327.0 Z" fill="url(#uBody)"/><path d="M 329.8 307.3 L 329.3 307.5 L 328.6 307.6 L 327.7 307.8 L 326.7 308.0 L 325.5 308.3 L 324.3 308.5 L 323.0 308.8 L 321.6 309.2 L 320.2 309.6 L 318.8 310.0 L 317.3 310.6 L 316.0 311.1 L 314.8 311.7 L 313.6 312.3 L 312.4 313.0 L 311.2 313.6 L 309.9 314.4 L 308.7 315.1 L 307.5 315.9 L 306.3 316.8 L 305.1 317.7 L 304.0 318.7 L 302.9 319.7 L 301.8 320.7 L 300.8 321.8 L 299.8 323.0 L 299.0 324.1 L 298.1 325.3 L 297.4 326.6 L 296.6 327.8 L 295.9 329.0 L 295.3 330.3 L 294.6 331.5 L 294.0 332.7 L 293.4 334.0 L 292.8 335.2 L 292.3 336.4 L 291.7 337.7 L 291.2 339.0 L 290.7 340.2 L 290.2 341.5 L 289.8 342.9 L 289.3 344.2 L 288.9 345.5 L 288.5 346.9 L 288.1 348.2 L 287.7 349.6 L 287.4 351.1 L 287.0 352.5 L 286.7 354.0 L 286.4 355.5 L 286.1 357.1 L 285.9 358.6 L 285.6 360.2 L 285.4 361.7 L 285.2 363.3 L 285.0 364.9 L 284.8 366.5 L 284.6 368.0 L 284.5 369.6 L 284.3 371.1 L 284.2 372.6 L 284.1 374.1 L 283.9 375.5 L 283.9 377.0 L 283.8 378.5 L 283.7 380.0 L 283.7 381.6 L 283.6 383.3 L 283.6 385.1 L 283.7 387.0 L 283.7 389.0 L 283.7 391.3 L 283.8 393.7 L 283.9 396.3 L 284.0 399.0 L 284.1 401.7 L 284.3 404.6 L 284.4 407.4 L 284.6 410.2 L 284.8 412.9 L 285.0 415.6 L 285.2 418.0 L 285.5 420.3 L 285.7 422.3 L 285.9 424.1 L 286.2 425.7 L 286.5 427.2 L 286.7 428.5 L 287.0 429.9 L 287.4 431.2 L 287.7 432.7 L 288.1 434.2 L 288.5 436.1 L 289.0 438.1 L 289.5 440.6 L 290.1 443.4 L 290.7 446.6 L 291.4 449.9 L 292.2 453.5 L 293.0 457.2 L 293.9 461.1 L 294.7 465.0 L 295.5 469.0 L 296.3 473.0 L 297.1 476.9 L 297.9 480.8 L 298.6 484.5 L 299.2 488.2 L 299.8 491.8 L 300.4 495.5 L 301.0 499.2 L 301.6 502.9 L 302.1 506.5 L 302.6 510.2 L 303.2 513.9 L 303.7 517.5 L 304.2 521.2 L 304.7 524.8 L 305.1 528.4 L 305.6 532.0 L 306.1 535.5 L 306.5 539.1 L 307.0 542.6 L 307.4 546.1 L 307.9 549.6 L 308.3 553.1 L 308.7 556.5 L 309.0 560.0 L 309.4 563.4 L 309.7 566.8 L 310.0 570.2 L 310.2 573.6 L 310.4 577.0 L 310.6 580.3 L 310.8 583.6 L 311.0 586.9 L 311.1 590.2 L 311.2 593.5 L 311.3 596.8 L 311.4 600.1 L 311.4 603.4 L 311.5 606.7 L 311.5 610.0 L 311.5 613.3 L 311.5 616.7 L 311.5 620.1 L 311.4 623.5 L 311.4 626.9 L 311.3 630.2 L 311.2 633.6 L 311.1 636.9 L 311.0 640.2 L 310.8 643.5 L 310.6 646.7 L 310.4 649.8 L 310.2 652.8 L 309.9 655.8 L 309.6 658.7 L 309.3 661.6 L 308.9 664.4 L 308.6 667.2 L 308.2 670.0 L 307.8 672.9 L 307.4 675.7 L 307.0 678.6 L 306.6 681.6 L 306.1 684.7 L 305.7 687.8 L 305.3 690.9 L 304.8 694.0 L 304.4 697.2 L 303.9 700.4 L 303.4 703.6 L 302.9 706.8 L 302.4 710.1 L 301.9 713.5 L 301.4 716.8 L 300.9 720.2 L 300.4 723.7 L 299.8 727.2 L 299.2 731.0 L 298.6 734.8 L 298.0 738.8 L 297.4 742.8 L 296.7 746.7 L 296.1 750.6 L 295.5 754.4 L 294.9 758.1 L 294.3 761.5 L 293.8 764.7 L 293.3 767.6 L 292.8 770.3 L 292.3 772.8 L 291.9 775.1 L 291.4 777.3 L 291.0 779.4 L 290.6 781.3 L 290.2 783.0 L 289.8 784.6 L 289.5 786.1 L 289.2 787.4 L 288.9 788.5 L 288.7 789.5 L 292.9 790.5 L 293.1 789.5 L 293.4 788.3 L 293.7 787.0 L 294.0 785.6 L 294.4 784.0 L 294.8 782.2 L 295.2 780.3 L 295.6 778.2 L 296.1 776.0 L 296.5 773.6 L 297.0 771.1 L 297.5 768.4 L 298.0 765.5 L 298.6 762.2 L 299.1 758.8 L 299.7 755.1 L 300.4 751.3 L 301.0 747.4 L 301.6 743.4 L 302.2 739.4 L 302.9 735.5 L 303.5 731.6 L 304.1 727.9 L 304.6 724.3 L 305.2 720.9 L 305.8 717.5 L 306.3 714.2 L 306.8 710.8 L 307.4 707.5 L 307.9 704.3 L 308.4 701.1 L 308.9 697.9 L 309.4 694.7 L 309.9 691.6 L 310.4 688.4 L 310.9 685.3 L 311.3 682.3 L 311.8 679.3 L 312.2 676.4 L 312.7 673.6 L 313.1 670.7 L 313.5 667.9 L 313.9 665.1 L 314.3 662.2 L 314.7 659.3 L 315.0 656.3 L 315.3 653.3 L 315.6 650.2 L 315.8 647.0 L 316.1 643.8 L 316.3 640.5 L 316.4 637.2 L 316.6 633.8 L 316.7 630.4 L 316.9 627.0 L 316.9 623.6 L 317.0 620.2 L 317.1 616.7 L 317.1 613.4 L 317.1 610.0 L 317.1 606.7 L 317.1 603.3 L 317.0 600.0 L 317.0 596.7 L 316.9 593.3 L 316.8 590.0 L 316.6 586.7 L 316.5 583.3 L 316.3 580.0 L 316.1 576.6 L 315.9 573.2 L 315.6 569.8 L 315.4 566.3 L 315.0 562.9 L 314.7 559.4 L 314.4 555.9 L 314.0 552.4 L 313.6 548.9 L 313.1 545.4 L 312.7 541.9 L 312.3 538.3 L 311.8 534.8 L 311.3 531.2 L 310.9 527.6 L 310.4 524.0 L 309.9 520.4 L 309.4 516.7 L 308.9 513.1 L 308.4 509.4 L 307.8 505.7 L 307.3 502.0 L 306.7 498.3 L 306.1 494.6 L 305.5 490.9 L 304.9 487.2 L 304.2 483.5 L 303.6 479.7 L 302.8 475.8 L 302.1 471.9 L 301.2 467.9 L 300.4 463.9 L 299.6 459.9 L 298.8 456.0 L 298.0 452.3 L 297.2 448.7 L 296.5 445.3 L 295.9 442.2 L 295.3 439.4 L 294.8 436.9 L 294.4 434.8 L 293.9 432.9 L 293.6 431.3 L 293.2 429.8 L 292.9 428.5 L 292.7 427.3 L 292.4 426.0 L 292.2 424.7 L 292.0 423.3 L 291.8 421.6 L 291.5 419.7 L 291.3 417.5 L 291.2 415.1 L 291.0 412.5 L 290.9 409.9 L 290.7 407.1 L 290.6 404.3 L 290.5 401.5 L 290.4 398.7 L 290.4 396.1 L 290.3 393.5 L 290.3 391.1 L 290.3 389.0 L 290.3 387.0 L 290.4 385.2 L 290.4 383.5 L 290.5 381.9 L 290.6 380.3 L 290.7 378.9 L 290.8 377.5 L 290.9 376.1 L 291.0 374.7 L 291.2 373.3 L 291.4 371.9 L 291.5 370.4 L 291.7 368.9 L 291.9 367.3 L 292.1 365.8 L 292.4 364.3 L 292.6 362.8 L 292.8 361.3 L 293.1 359.9 L 293.4 358.4 L 293.6 357.0 L 293.9 355.6 L 294.3 354.3 L 294.6 352.9 L 295.0 351.6 L 295.4 350.4 L 295.8 349.1 L 296.2 347.9 L 296.6 346.7 L 297.1 345.5 L 297.5 344.4 L 298.0 343.2 L 298.5 342.1 L 299.0 341.0 L 299.6 339.9 L 300.2 338.8 L 300.8 337.7 L 301.4 336.6 L 302.0 335.5 L 302.6 334.4 L 303.3 333.4 L 303.9 332.3 L 304.6 331.4 L 305.3 330.4 L 306.0 329.6 L 306.7 328.7 L 307.5 328.0 L 308.2 327.3 L 309.0 326.6 L 309.8 326.0 L 310.8 325.4 L 311.7 324.8 L 312.7 324.2 L 313.7 323.6 L 314.8 323.1 L 315.8 322.6 L 316.9 322.1 L 318.0 321.7 L 319.0 321.2 L 320.0 320.9 L 320.9 320.6 L 321.9 320.3 L 322.9 320.1 L 324.1 319.8 L 325.2 319.6 L 326.3 319.5 L 327.5 319.3 L 328.6 319.2 L 329.6 319.0 L 330.6 318.9 L 331.4 318.8 L 332.2 318.7 Z" fill="#dec4a8" opacity="0.55" filter="url(#blur2)"/><path d="M 327.6 296.3 L 327.2 296.5 L 326.7 296.7 L 325.9 296.9 L 324.9 297.2 L 323.6 297.5 L 322.3 297.9 L 320.8 298.3 L 319.2 298.8 L 317.5 299.4 L 315.7 300.1 L 313.9 300.8 L 312.1 301.7 L 310.7 302.4 L 309.3 303.2 L 308.0 304.1 L 306.6 304.9 L 305.2 305.9 L 303.8 306.9 L 302.4 308.0 L 301.0 309.1 L 299.6 310.3 L 298.3 311.5 L 296.9 312.9 L 295.6 314.3 L 294.3 315.8 L 293.2 317.4 L 292.1 318.9 L 291.2 320.4 L 290.3 321.9 L 289.5 323.4 L 288.8 324.8 L 288.1 326.2 L 287.5 327.6 L 286.9 329.0 L 286.3 330.3 L 285.7 331.7 L 285.2 333.1 L 284.6 334.5 L 284.1 335.9 L 283.6 337.4 L 283.1 338.8 L 282.7 340.3 L 282.2 341.7 L 281.8 343.2 L 281.4 344.7 L 281.0 346.2 L 280.7 347.7 L 280.3 349.3 L 280.0 350.9 L 279.7 352.5 L 279.4 354.1 L 279.1 355.8 L 278.9 357.4 L 278.6 359.0 L 278.4 360.7 L 278.2 362.3 L 278.0 364.0 L 277.8 365.6 L 277.7 367.3 L 277.6 368.9 L 277.4 370.4 L 277.4 371.9 L 277.3 373.4 L 277.2 375.0 L 277.1 376.5 L 277.1 378.1 L 277.1 379.7 L 277.1 381.4 L 277.1 383.2 L 277.1 385.0 L 277.2 387.0 L 277.3 389.1 L 277.3 391.4 L 277.5 393.8 L 277.6 396.4 L 277.8 399.2 L 277.9 402.0 L 278.1 404.9 L 278.3 407.7 L 278.5 410.6 L 278.8 413.4 L 279.0 416.0 L 279.3 418.6 L 279.5 420.9 L 279.8 423.1 L 280.1 425.0 L 280.4 426.7 L 280.7 428.3 L 281.0 429.7 L 281.3 431.2 L 281.7 432.5 L 282.0 434.0 L 282.4 435.6 L 282.8 437.3 L 283.3 439.4 L 283.8 441.8 L 284.4 444.6 L 285.1 447.8 L 285.8 451.1 L 286.6 454.7 L 287.4 458.4 L 288.3 462.3 L 289.1 466.2 L 290.0 470.2 L 290.8 474.1 L 291.6 478.0 L 292.3 481.8 L 293.0 485.5 L 293.7 489.1 L 294.3 492.7 L 294.9 496.4 L 295.5 500.0 L 296.0 503.7 L 296.6 507.4 L 297.1 511.0 L 297.6 514.7 L 298.1 518.3 L 298.6 521.9 L 299.1 525.5 L 299.6 529.1 L 300.1 532.7 L 300.5 536.2 L 301.0 539.8 L 301.5 543.3 L 301.9 546.8 L 302.3 550.2 L 302.8 553.7 L 303.2 557.1 L 303.5 560.5 L 303.9 563.9 L 304.2 567.3 L 304.5 570.6 L 304.7 574.0 L 305.0 577.3 L 305.2 580.6 L 305.3 583.9 L 305.5 587.2 L 305.6 590.4 L 305.7 593.7 L 305.8 596.9 L 305.9 600.2 L 306.0 603.5 L 306.0 606.7 L 306.1 610.0 L 306.1 613.3 L 306.1 616.7 L 306.1 620.0 L 306.1 623.4 L 306.1 626.7 L 306.0 630.1 L 306.0 633.4 L 305.9 636.7 L 305.8 639.9 L 305.7 643.2 L 305.5 646.3 L 305.4 649.4 L 305.2 652.4 L 304.9 655.3 L 304.7 658.2 L 304.4 661.0 L 304.1 663.8 L 303.8 666.6 L 303.4 669.4 L 303.1 672.2 L 302.7 675.0 L 302.3 678.0 L 302.0 680.9 L 301.6 684.0 L 301.2 687.1 L 300.8 690.2 L 300.4 693.3 L 300.0 696.5 L 299.5 699.7 L 299.1 702.9 L 298.6 706.2 L 298.2 709.5 L 297.7 712.8 L 297.2 716.2 L 296.7 719.6 L 296.2 723.0 L 295.6 726.6 L 295.1 730.3 L 294.5 734.2 L 293.9 738.1 L 293.3 742.1 L 292.6 746.1 L 292.0 750.0 L 291.4 753.8 L 290.8 757.4 L 290.2 760.8 L 289.7 764.0 L 289.2 766.9 L 288.7 769.5 L 288.3 772.0 L 287.8 774.3 L 287.3 776.5 L 286.9 778.5 L 286.5 780.4 L 286.1 782.1 L 285.7 783.7 L 285.4 785.2 L 285.1 786.5 L 284.8 787.6 L 284.6 788.7 L 297.0 791.3 L 297.2 790.4 L 297.5 789.3 L 297.7 788.0 L 298.1 786.5 L 298.4 784.9 L 298.8 783.1 L 299.2 781.2 L 299.7 779.1 L 300.1 776.8 L 300.6 774.4 L 301.1 771.8 L 301.6 769.1 L 302.1 766.2 L 302.7 762.9 L 303.2 759.5 L 303.8 755.8 L 304.5 752.0 L 305.1 748.1 L 305.7 744.1 L 306.4 740.1 L 307.0 736.1 L 307.6 732.3 L 308.2 728.6 L 308.8 725.0 L 309.4 721.6 L 310.0 718.2 L 310.5 714.8 L 311.1 711.5 L 311.7 708.2 L 312.2 705.0 L 312.8 701.7 L 313.4 698.5 L 313.9 695.4 L 314.4 692.2 L 314.9 689.1 L 315.4 686.0 L 315.9 683.0 L 316.4 680.0 L 316.9 677.1 L 317.4 674.3 L 317.8 671.4 L 318.3 668.6 L 318.7 665.7 L 319.2 662.8 L 319.6 659.9 L 320.0 656.8 L 320.3 653.8 L 320.6 650.6 L 320.9 647.4 L 321.2 644.1 L 321.4 640.8 L 321.6 637.4 L 321.8 634.0 L 322.0 630.6 L 322.2 627.1 L 322.3 623.7 L 322.4 620.2 L 322.5 616.8 L 322.5 613.4 L 322.5 610.0 L 322.6 606.6 L 322.5 603.3 L 322.5 599.9 L 322.4 596.5 L 322.4 593.2 L 322.3 589.8 L 322.1 586.5 L 322.0 583.1 L 321.8 579.7 L 321.6 576.3 L 321.4 572.8 L 321.1 569.4 L 320.9 565.9 L 320.5 562.4 L 320.2 558.8 L 319.9 555.3 L 319.5 551.8 L 319.1 548.3 L 318.7 544.7 L 318.2 541.2 L 317.8 537.6 L 317.4 534.0 L 316.9 530.5 L 316.4 526.9 L 315.9 523.3 L 315.5 519.6 L 315.0 516.0 L 314.4 512.3 L 313.9 508.6 L 313.4 504.9 L 312.8 501.2 L 312.2 497.4 L 311.6 493.7 L 311.0 490.0 L 310.4 486.2 L 309.8 482.5 L 309.1 478.7 L 308.4 474.8 L 307.6 470.8 L 306.8 466.7 L 306.0 462.7 L 305.2 458.7 L 304.4 454.8 L 303.6 451.1 L 302.9 447.5 L 302.2 444.1 L 301.6 441.0 L 301.0 438.2 L 300.5 435.7 L 300.0 433.5 L 299.6 431.6 L 299.3 429.9 L 298.9 428.5 L 298.6 427.2 L 298.4 426.1 L 298.2 424.9 L 298.0 423.8 L 297.8 422.4 L 297.6 420.9 L 297.5 419.1 L 297.3 417.0 L 297.1 414.6 L 297.0 412.1 L 296.9 409.5 L 296.8 406.8 L 296.8 404.0 L 296.7 401.3 L 296.7 398.5 L 296.7 395.9 L 296.7 393.4 L 296.7 391.0 L 296.7 388.9 L 296.8 387.0 L 296.9 385.2 L 297.0 383.6 L 297.1 382.1 L 297.2 380.7 L 297.3 379.3 L 297.5 378.0 L 297.7 376.7 L 297.8 375.3 L 298.0 374.0 L 298.2 372.6 L 298.4 371.1 L 298.7 369.7 L 298.9 368.2 L 299.1 366.7 L 299.3 365.3 L 299.6 363.9 L 299.8 362.5 L 300.1 361.1 L 300.4 359.7 L 300.7 358.4 L 301.0 357.1 L 301.3 355.9 L 301.7 354.7 L 302.0 353.6 L 302.4 352.4 L 302.8 351.3 L 303.3 350.2 L 303.7 349.1 L 304.1 348.1 L 304.6 347.1 L 305.1 346.1 L 305.6 345.2 L 306.1 344.2 L 306.7 343.3 L 307.3 342.3 L 307.9 341.3 L 308.5 340.3 L 309.2 339.3 L 309.8 338.4 L 310.4 337.6 L 311.1 336.8 L 311.7 336.0 L 312.3 335.4 L 312.9 334.8 L 313.4 334.3 L 313.9 334.0 L 314.4 333.7 L 315.0 333.4 L 315.5 333.1 L 316.2 332.8 L 317.0 332.5 L 317.8 332.2 L 318.6 331.9 L 319.5 331.6 L 320.4 331.3 L 321.3 331.0 L 322.2 330.7 L 323.1 330.5 L 323.9 330.3 L 324.4 330.3 L 324.9 330.3 L 325.6 330.2 L 326.5 330.2 L 327.4 330.1 L 328.4 330.1 L 329.4 330.0 L 330.4 330.0 L 331.4 329.9 L 332.4 329.9 L 333.5 329.8 L 334.4 329.7 Z" fill="url(#pel2R)" clip-path="url(#pcR)"/><path d="M 327.6 296.3 L 327.2 296.5 L 326.7 296.7 L 325.9 296.9 L 324.9 297.2 L 323.6 297.5 L 322.3 297.9 L 320.8 298.3 L 319.2 298.8 L 317.5 299.4 L 315.7 300.1 L 313.9 300.8 L 312.1 301.7 L 310.7 302.4 L 309.3 303.2 L 308.0 304.1 L 306.6 304.9 L 305.2 305.9 L 303.8 306.9 L 302.4 308.0 L 301.0 309.1 L 299.6 310.3 L 298.3 311.5 L 296.9 312.9 L 295.6 314.3 L 294.3 315.8 L 293.2 317.4 L 292.1 318.9 L 291.2 320.4 L 290.3 321.9 L 289.5 323.4 L 288.8 324.8 L 288.1 326.2 L 287.5 327.6 L 286.9 329.0 L 286.3 330.3 L 285.7 331.7 L 285.2 333.1 L 284.6 334.5 L 284.1 335.9 L 283.6 337.4 L 283.1 338.8 L 282.7 340.3 L 282.2 341.7 L 281.8 343.2 L 281.4 344.7 L 281.0 346.2 L 280.7 347.7 L 280.3 349.3 L 280.0 350.9 L 279.7 352.5 L 279.4 354.1 L 279.1 355.8 L 278.9 357.4 L 278.6 359.0 L 278.4 360.7 L 278.2 362.3 L 278.0 364.0 L 277.8 365.6 L 277.7 367.3 L 277.6 368.9 L 277.4 370.4 L 277.4 371.9 L 277.3 373.4 L 277.2 375.0 L 277.1 376.5 L 277.1 378.1 L 277.1 379.7 L 277.1 381.4 L 277.1 383.2 L 277.1 385.0 L 277.2 387.0 L 277.3 389.1 L 277.3 391.4 L 277.5 393.8 L 277.6 396.4 L 277.8 399.2 L 277.9 402.0 L 278.1 404.9 L 278.3 407.7 L 278.5 410.6 L 278.8 413.4 L 279.0 416.0 L 279.3 418.6 L 279.5 420.9 L 279.8 423.1 L 280.1 425.0 L 280.4 426.7 L 280.7 428.3 L 281.0 429.7 L 281.3 431.2 L 281.7 432.5 L 282.0 434.0 L 282.4 435.6 L 282.8 437.3 L 283.3 439.4 L 283.8 441.8 L 284.4 444.6 L 285.1 447.8 L 285.8 451.1 L 286.6 454.7 L 287.4 458.4 L 288.3 462.3 L 289.1 466.2 L 290.0 470.2 L 290.8 474.1 L 291.6 478.0 L 292.3 481.8 L 293.0 485.5 L 293.7 489.1 L 294.3 492.7 L 294.9 496.4 L 295.5 500.0 L 296.0 503.7 L 296.6 507.4 L 297.1 511.0 L 297.6 514.7 L 298.1 518.3 L 298.6 521.9 L 299.1 525.5 L 299.6 529.1 L 300.1 532.7 L 300.5 536.2 L 301.0 539.8 L 301.5 543.3 L 301.9 546.8 L 302.3 550.2 L 302.8 553.7 L 303.2 557.1 L 303.5 560.5 L 303.9 563.9 L 304.2 567.3 L 304.5 570.6 L 304.7 574.0 L 305.0 577.3 L 305.2 580.6 L 305.3 583.9 L 305.5 587.2 L 305.6 590.4 L 305.7 593.7 L 305.8 596.9 L 305.9 600.2 L 306.0 603.5 L 306.0 606.7 L 306.1 610.0 L 306.1 613.3 L 306.1 616.7 L 306.1 620.0 L 306.1 623.4 L 306.1 626.7 L 306.0 630.1 L 306.0 633.4 L 305.9 636.7 L 305.8 639.9 L 305.7 643.2 L 305.5 646.3 L 305.4 649.4 L 305.2 652.4 L 304.9 655.3 L 304.7 658.2 L 304.4 661.0 L 304.1 663.8 L 303.8 666.6 L 303.4 669.4 L 303.1 672.2 L 302.7 675.0 L 302.3 678.0 L 302.0 680.9 L 301.6 684.0 L 301.2 687.1 L 300.8 690.2 L 300.4 693.3 L 300.0 696.5 L 299.5 699.7 L 299.1 702.9 L 298.6 706.2 L 298.2 709.5 L 297.7 712.8 L 297.2 716.2 L 296.7 719.6 L 296.2 723.0 L 295.6 726.6 L 295.1 730.3 L 294.5 734.2 L 293.9 738.1 L 293.3 742.1 L 292.6 746.1 L 292.0 750.0 L 291.4 753.8 L 290.8 757.4 L 290.2 760.8 L 289.7 764.0 L 289.2 766.9 L 288.7 769.5 L 288.3 772.0 L 287.8 774.3 L 287.3 776.5 L 286.9 778.5 L 286.5 780.4 L 286.1 782.1 L 285.7 783.7 L 285.4 785.2 L 285.1 786.5 L 284.8 787.6 L 284.6 788.7 L 297.0 791.3 L 297.2 790.4 L 297.5 789.3 L 297.7 788.0 L 298.1 786.5 L 298.4 784.9 L 298.8 783.1 L 299.2 781.2 L 299.7 779.1 L 300.1 776.8 L 300.6 774.4 L 301.1 771.8 L 301.6 769.1 L 302.1 766.2 L 302.7 762.9 L 303.2 759.5 L 303.8 755.8 L 304.5 752.0 L 305.1 748.1 L 305.7 744.1 L 306.4 740.1 L 307.0 736.1 L 307.6 732.3 L 308.2 728.6 L 308.8 725.0 L 309.4 721.6 L 310.0 718.2 L 310.5 714.8 L 311.1 711.5 L 311.7 708.2 L 312.2 705.0 L 312.8 701.7 L 313.4 698.5 L 313.9 695.4 L 314.4 692.2 L 314.9 689.1 L 315.4 686.0 L 315.9 683.0 L 316.4 680.0 L 316.9 677.1 L 317.4 674.3 L 317.8 671.4 L 318.3 668.6 L 318.7 665.7 L 319.2 662.8 L 319.6 659.9 L 320.0 656.8 L 320.3 653.8 L 320.6 650.6 L 320.9 647.4 L 321.2 644.1 L 321.4 640.8 L 321.6 637.4 L 321.8 634.0 L 322.0 630.6 L 322.2 627.1 L 322.3 623.7 L 322.4 620.2 L 322.5 616.8 L 322.5 613.4 L 322.5 610.0 L 322.6 606.6 L 322.5 603.3 L 322.5 599.9 L 322.4 596.5 L 322.4 593.2 L 322.3 589.8 L 322.1 586.5 L 322.0 583.1 L 321.8 579.7 L 321.6 576.3 L 321.4 572.8 L 321.1 569.4 L 320.9 565.9 L 320.5 562.4 L 320.2 558.8 L 319.9 555.3 L 319.5 551.8 L 319.1 548.3 L 318.7 544.7 L 318.2 541.2 L 317.8 537.6 L 317.4 534.0 L 316.9 530.5 L 316.4 526.9 L 315.9 523.3 L 315.5 519.6 L 315.0 516.0 L 314.4 512.3 L 313.9 508.6 L 313.4 504.9 L 312.8 501.2 L 312.2 497.4 L 311.6 493.7 L 311.0 490.0 L 310.4 486.2 L 309.8 482.5 L 309.1 478.7 L 308.4 474.8 L 307.6 470.8 L 306.8 466.7 L 306.0 462.7 L 305.2 458.7 L 304.4 454.8 L 303.6 451.1 L 302.9 447.5 L 302.2 444.1 L 301.6 441.0 L 301.0 438.2 L 300.5 435.7 L 300.0 433.5 L 299.6 431.6 L 299.3 429.9 L 298.9 428.5 L 298.6 427.2 L 298.4 426.1 L 298.2 424.9 L 298.0 423.8 L 297.8 422.4 L 297.6 420.9 L 297.5 419.1 L 297.3 417.0 L 297.1 414.6 L 297.0 412.1 L 296.9 409.5 L 296.8 406.8 L 296.8 404.0 L 296.7 401.3 L 296.7 398.5 L 296.7 395.9 L 296.7 393.4 L 296.7 391.0 L 296.7 388.9 L 296.8 387.0 L 296.9 385.2 L 297.0 383.6 L 297.1 382.1 L 297.2 380.7 L 297.3 379.3 L 297.5 378.0 L 297.7 376.7 L 297.8 375.3 L 298.0 374.0 L 298.2 372.6 L 298.4 371.1 L 298.7 369.7 L 298.9 368.2 L 299.1 366.7 L 299.3 365.3 L 299.6 363.9 L 299.8 362.5 L 300.1 361.1 L 300.4 359.7 L 300.7 358.4 L 301.0 357.1 L 301.3 355.9 L 301.7 354.7 L 302.0 353.6 L 302.4 352.4 L 302.8 351.3 L 303.3 350.2 L 303.7 349.1 L 304.1 348.1 L 304.6 347.1 L 305.1 346.1 L 305.6 345.2 L 306.1 344.2 L 306.7 343.3 L 307.3 342.3 L 307.9 341.3 L 308.5 340.3 L 309.2 339.3 L 309.8 338.4 L 310.4 337.6 L 311.1 336.8 L 311.7 336.0 L 312.3 335.4 L 312.9 334.8 L 313.4 334.3 L 313.9 334.0 L 314.4 333.7 L 315.0 333.4 L 315.5 333.1 L 316.2 332.8 L 317.0 332.5 L 317.8 332.2 L 318.6 331.9 L 319.5 331.6 L 320.4 331.3 L 321.3 331.0 L 322.2 330.7 L 323.1 330.5 L 323.9 330.3 L 324.4 330.3 L 324.9 330.3 L 325.6 330.2 L 326.5 330.2 L 327.4 330.1 L 328.4 330.1 L 329.4 330.0 L 330.4 330.0 L 331.4 329.9 L 332.4 329.9 L 333.5 329.8 L 334.4 329.7 Z" fill="url(#pelR)"/></g>
<path d="M 163 882 L 323 882 L 323 948 L 163 948 Z" fill="url(#shoG)" filter="url(#blur2)"/>
<g><path d="M 156 937 C 165 936, 172 939, 176 942 L 172 948 C 165 947, 158 943, 156 937 Z" fill="#f2d6d2"/><path d="M 163 940 C 185 941, 208 940, 229 937 L 229 961 C 208 957, 186 951, 171 947.5 C 166 946.5, 163 944, 163 940 Z" fill="#a75858" stroke="#dcb4b4" stroke-width="1.2"/><path d="M 163 940 C 185 941, 208 940, 229 937 L 229 961 C 208 957, 186 951, 171 947.5 C 166 946.5, 163 944, 163 940 Z" fill="url(#cells)"/></g>
<g transform="translate(486 0) scale(-1 1)"><path d="M 156 937 C 165 936, 172 939, 176 942 L 172 948 C 165 947, 158 943, 156 937 Z" fill="#f2d6d2"/><path d="M 163 940 C 185 941, 208 940, 229 937 L 229 961 C 208 957, 186 951, 171 947.5 C 166 946.5, 163 944, 163 940 Z" fill="#a75858" stroke="#dcb4b4" stroke-width="1.2"/><path d="M 163 940 C 185 941, 208 940, 229 937 L 229 961 C 208 957, 186 951, 171 947.5 C 166 946.5, 163 944, 163 940 Z" fill="url(#cells)"/></g>
<path d="M 243 758.5 C 200 758.5, 156.5 785, 157 830 C 157 870, 176 897, 204 918 C 214 925, 222 928.5, 228.5 929.5 C 227.5 936, 227.2 940, 227.2 946 C 227 963, 232 977.2, 243 977.2 C 254 977.2, 259 963, 258.8 946 C 258.8 940, 258.5 936, 257.5 929.5 C 264 928.5, 272 925, 282 918 C 310 897, 329 870, 329 830 C 329.5 785, 286 758.5, 243 758.5 Z" fill="url(#domeG)"/>
<path d="M 243 782 C 200 782, 158.5 800, 158.5 838 C 158.5 872, 177 897, 205 918 C 214 924.5, 222 928, 229.5 928.8 C 228.5 936, 228.3 940, 228.3 946 C 228 962, 233 976, 243 976 C 253 976, 258 962, 257.7 946 C 257.7 940, 257.5 936, 256.5 928.8 C 264 928, 272 924.5, 281 918 C 309 897, 327.5 872, 327.5 838 C 327.5 800, 286 782, 243 782 Z" fill="#a25252"/>
<path d="M 243 782 C 200 782, 158.5 800, 158.5 838 C 158.5 872, 177 897, 205 918 C 214 924.5, 222 928, 229.5 928.8 C 228.5 936, 228.3 940, 228.3 946 C 228 962, 233 976, 243 976 C 253 976, 258 962, 257.7 946 C 257.7 940, 257.5 936, 256.5 928.8 C 264 928, 272 924.5, 281 918 C 309 897, 327.5 872, 327.5 838 C 327.5 800, 286 782, 243 782 Z" fill="url(#cells)"/>
<path d="M 243 782 C 200 782, 158.5 800, 158.5 838 C 158.5 872, 177 897, 205 918 C 214 924.5, 222 928, 229.5 928.8 C 228.5 936, 228.3 940, 228.3 946 C 228 962, 233 976, 243 976 C 253 976, 258 962, 257.7 946 C 257.7 940, 257.5 936, 256.5 928.8 C 264 928, 272 924.5, 281 918 C 309 897, 327.5 872, 327.5 838 C 327.5 800, 286 782, 243 782 Z" fill="none" stroke="#e4937f" stroke-width="1.5"/>
<path d="M 243 790.5 C 203 790.5, 165 808, 165 846 C 165 872, 184 896, 211 911.5 C 221 917, 229 919.5, 235 920 L 251 920 C 257 919.5, 265 917, 275 911.5 C 302 896, 321 872, 321 846 C 321 808, 283 790.5, 243 790.5 Z" fill="url(#cavG)" stroke="#e8988a" stroke-width="2"/>
<ellipse cx="216" cy="877" rx="7" ry="5" fill="#8e4444" opacity="0.35" filter="url(#blur2)"/>
<ellipse cx="270" cy="877" rx="7" ry="5" fill="#8e4444" opacity="0.35" filter="url(#blur2)"/>
<path d="M 236.5 920 L 249.5 920 L 249.5 965 C 249.5 971, 246.5 974, 243 974 C 239.5 974, 236.5 971, 236.5 965 Z" fill="url(#lumG)" stroke="#e8988a" stroke-width="1.4"/>
<g fill="#0d0d0d" opacity="0.999">
<text x="59.87" y="96.00" font-size="52" textLength="284.83" lengthAdjust="spacingAndGlyphs" font-weight="bold" stroke="#000" stroke-width="1.1">Pathogenesis</text>
<text x="349.85" y="96.00" font-size="52" textLength="44.66" lengthAdjust="spacingAndGlyphs" font-weight="bold" stroke="#000" stroke-width="1.1">of</text>
<text x="400.51" y="96.00" font-size="52" textLength="158.14" lengthAdjust="spacingAndGlyphs" font-weight="bold" stroke="#000" stroke-width="1.1">urinary</text>
<text x="564.62" y="96.00" font-size="52" textLength="102.56" lengthAdjust="spacingAndGlyphs" font-weight="bold" stroke="#000" stroke-width="1.1">tract</text>
<text x="673.47" y="96.00" font-size="52" textLength="192.59" lengthAdjust="spacingAndGlyphs" font-weight="bold" stroke="#000" stroke-width="1.1">infection</text>
<text x="201.53" y="284.70" font-size="24" textLength="81.20" lengthAdjust="spacingAndGlyphs">Kidneys</text>
<text x="201.94" y="580.70" font-size="24" textLength="78.93" lengthAdjust="spacingAndGlyphs">Ureters</text>
<text x="201.31" y="725.80" font-size="24" textLength="79.47" lengthAdjust="spacingAndGlyphs">Bladder</text>
<text x="201.06" y="1003.80" font-size="24" textLength="79.34" lengthAdjust="spacingAndGlyphs">Urethra</text>
<text x="564.46" y="269.70" font-size="24" textLength="150.59" lengthAdjust="spacingAndGlyphs">Acurate kidney</text>
<text x="610.36" y="302.00" font-size="24" textLength="58.48" lengthAdjust="spacingAndGlyphs">injury</text>
<text x="566.20" y="454.90" font-size="24" textLength="145.44" lengthAdjust="spacingAndGlyphs">Pyelonephritis</text>
<text x="589.26" y="621.80" font-size="24" textLength="103.70" lengthAdjust="spacingAndGlyphs">Ascension</text>
<text x="566.26" y="773.90" font-size="24" textLength="147.32" lengthAdjust="spacingAndGlyphs">Uroepithelium</text>
<text x="580.26" y="806.70" font-size="24" textLength="119.28" lengthAdjust="spacingAndGlyphs">penetration</text>
<text x="576.01" y="959.90" font-size="24" textLength="128.50" lengthAdjust="spacingAndGlyphs">Colonization</text>
<text x="809.26" y="243.00" font-size="20" textLength="482.37" lengthAdjust="spacingAndGlyphs">If the inflammatory cascade continues, tubular obstruction</text>
<text x="794.22" y="268.00" font-size="20" textLength="391.06" lengthAdjust="spacingAndGlyphs">and damage occur, leading to interstitial edema.</text>
<text x="809.29" y="293.00" font-size="20" textLength="476.25" lengthAdjust="spacingAndGlyphs">This may lead to interstitial nephritis, causing acute kidney</text>
<text x="794.23" y="318.00" font-size="20" textLength="99.41" lengthAdjust="spacingAndGlyphs">injury (AKI).</text>
<text x="808.60" y="407.60" font-size="20" textLength="361.59" lengthAdjust="spacingAndGlyphs">Infection of the renal parenchyma causes an</text>
<text x="794.24" y="432.60" font-size="20" textLength="372.69" lengthAdjust="spacingAndGlyphs">inflammatory response called pyelonephritis.</text>
<text x="808.82" y="457.60" font-size="20" textLength="407.52" lengthAdjust="spacingAndGlyphs">While infection of the renal parenchyma is usually</text>
<text x="794.92" y="482.60" font-size="20" textLength="441.28" lengthAdjust="spacingAndGlyphs">the result of bacterial ascension, it can also occur from</text>
<text x="794.11" y="507.60" font-size="20" textLength="190.09" lengthAdjust="spacingAndGlyphs">hematogenous spread.</text>
<text x="808.62" y="572.80" font-size="20" textLength="439.88" lengthAdjust="spacingAndGlyphs">Once sufficient bacterial colonization occurs, bacteria</text>
<text x="794.07" y="597.80" font-size="20" textLength="375.53" lengthAdjust="spacingAndGlyphs">may ascend on the ureter towards the kidney.</text>
<text x="808.82" y="622.80" font-size="20" textLength="338.04" lengthAdjust="spacingAndGlyphs">Fimbria may aid in the ascension process.</text>
<text x="808.79" y="647.80" font-size="20" textLength="395.80" lengthAdjust="spacingAndGlyphs">Bacterial toxins may also play a role by inhibiting</text>
<text x="794.10" y="672.80" font-size="20" textLength="314.21" lengthAdjust="spacingAndGlyphs">peristalsis (reducing the flow of urine).</text>
<text x="808.76" y="750.50" font-size="20" textLength="425.65" lengthAdjust="spacingAndGlyphs">Fimbria allow bladder epithelial cell attachment and</text>
<text x="794.04" y="775.50" font-size="20" textLength="103.35" lengthAdjust="spacingAndGlyphs">penetration.</text>
<text x="808.76" y="800.50" font-size="20" textLength="466.15" lengthAdjust="spacingAndGlyphs">Following penetration, bacteria continue to replicate and</text>
<text x="794.04" y="825.50" font-size="20" textLength="153.79" lengthAdjust="spacingAndGlyphs">may form biofilms.</text>
<text x="808.80" y="945.80" font-size="20" textLength="449.57" lengthAdjust="spacingAndGlyphs">Pathogen colonizes the periuretheral area and ascends</text>
<text x="794.91" y="970.80" font-size="20" textLength="413.61" lengthAdjust="spacingAndGlyphs">through the urethra upwards towards the bladder.</text>
</g>
<g fill="#0d0d0d">
<circle cx="800.2" cy="237.1" r="3.8"/>
<circle cx="800.2" cy="287.1" r="3.8"/>
<circle cx="800.2" cy="401.7" r="3.8"/>
<circle cx="800.2" cy="451.7" r="3.8"/>
<circle cx="800.2" cy="566.9" r="3.8"/>
<circle cx="800.2" cy="616.9" r="3.8"/>
<circle cx="800.2" cy="641.9" r="3.8"/>
<circle cx="800.2" cy="744.6" r="3.8"/>
<circle cx="800.2" cy="794.6" r="3.8"/>
<circle cx="800.2" cy="939.9" r="3.8"/>
</g>
</svg></body></html>
